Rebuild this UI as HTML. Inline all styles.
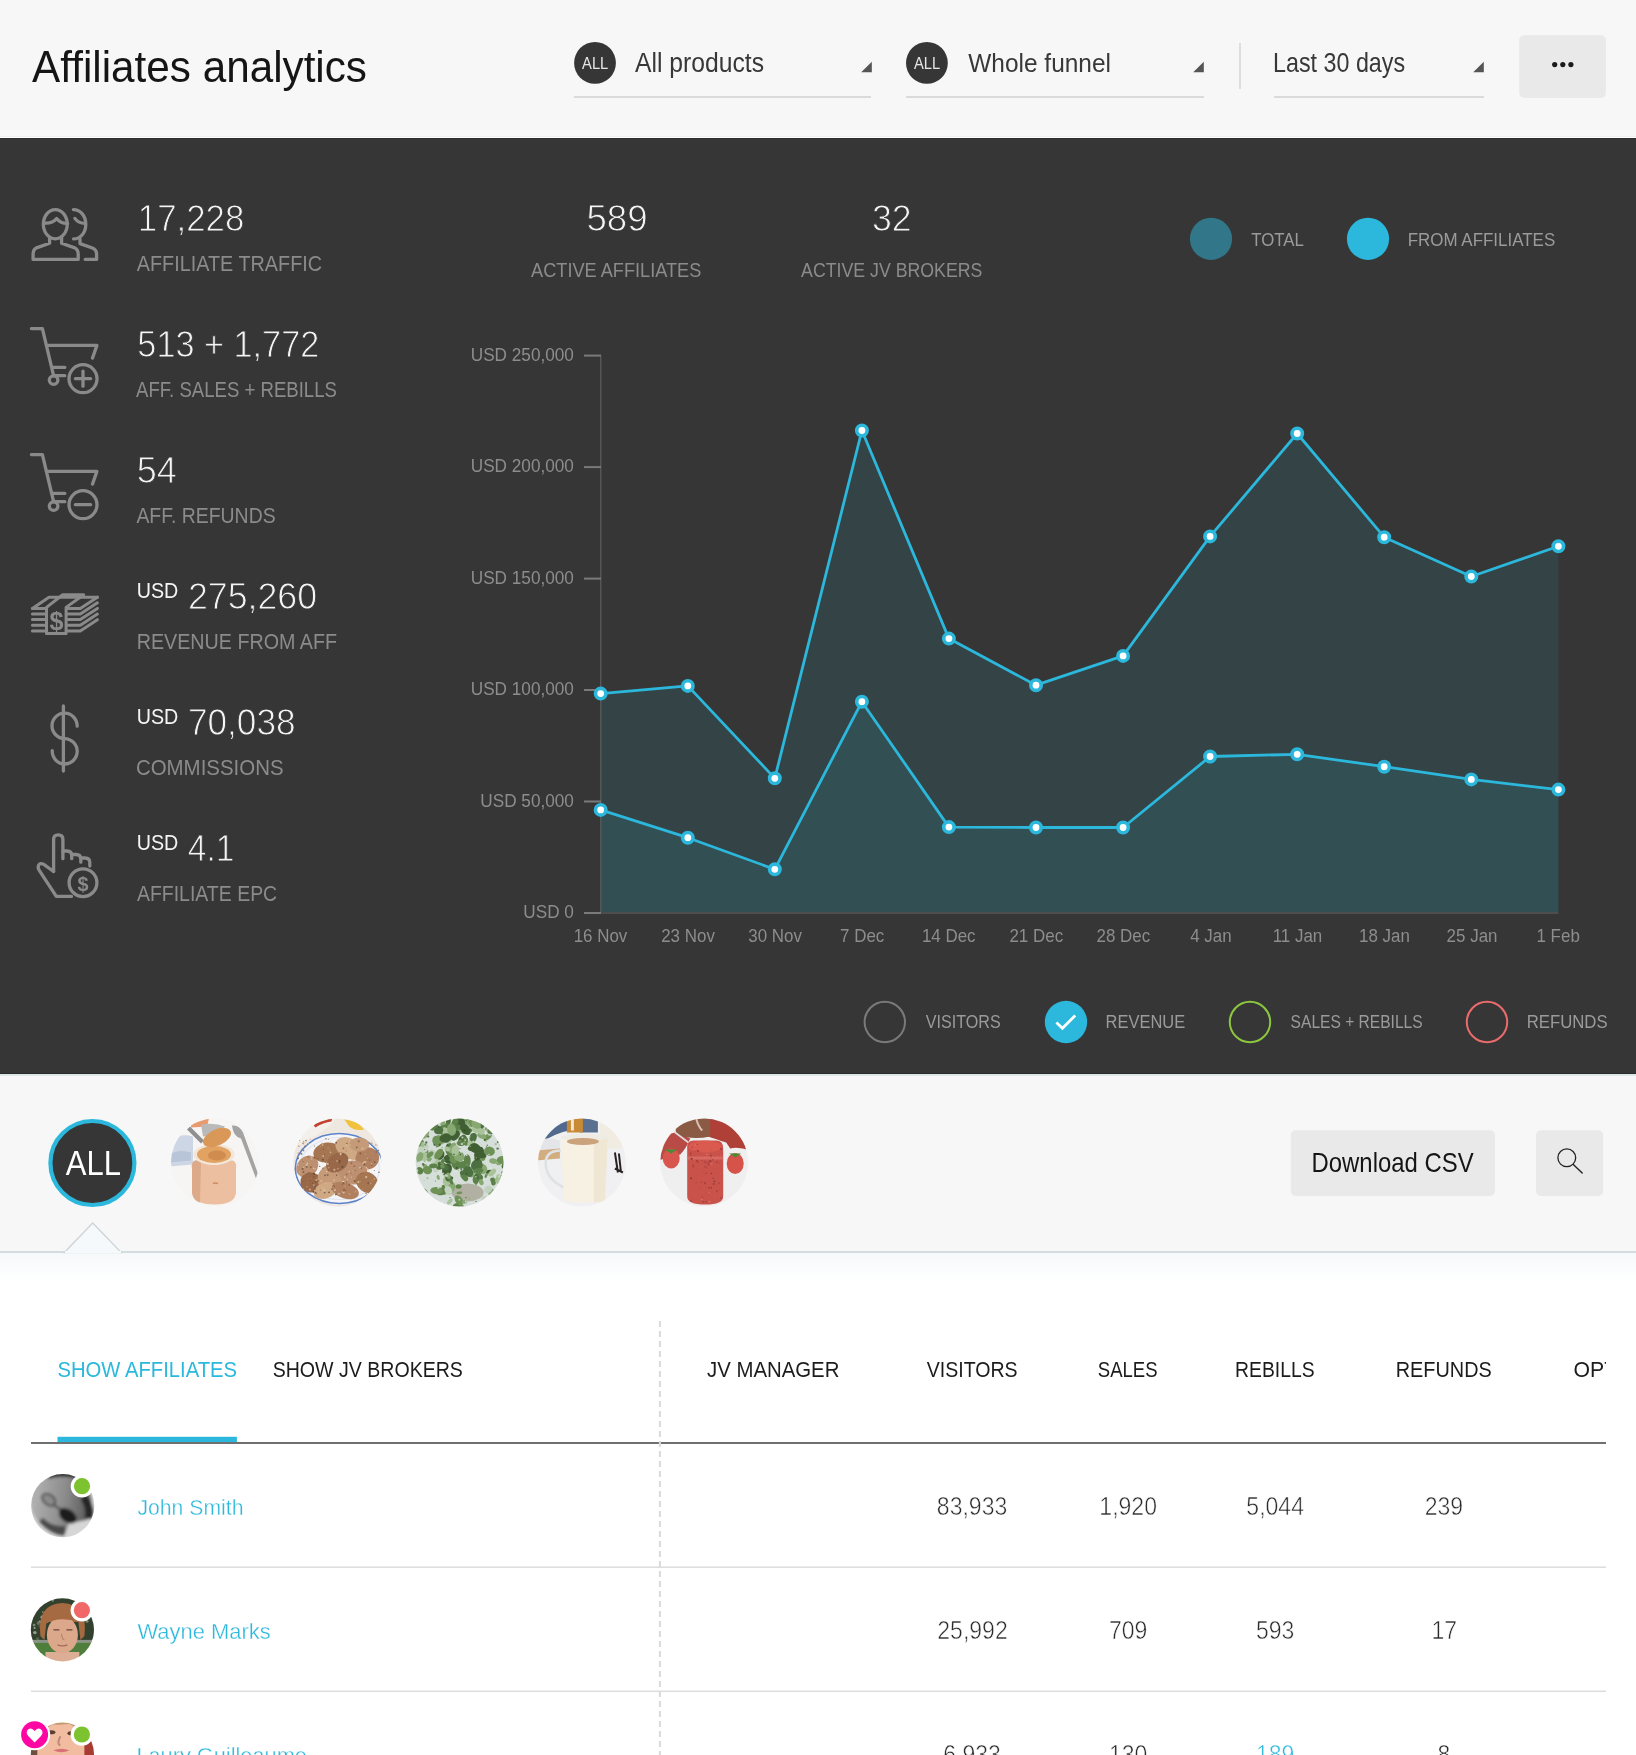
<!DOCTYPE html>
<html><head><meta charset="utf-8"><title>Affiliates analytics</title>
<style>
html,body{margin:0;padding:0;background:#fff;}
body{width:1636px;height:1755px;overflow:hidden;}
svg{display:block;font-family:"Liberation Sans", Arial, sans-serif;will-change:transform;}
</style></head><body>
<svg width="1636" height="1755" viewBox="0 0 1636 1755">
<defs>
<linearGradient id="fadeg" x1="0" y1="0" x2="0" y2="1" gradientUnits="objectBoundingBox">
<stop offset="0" stop-color="#f6f8fa"/><stop offset="0.06" stop-color="#ffffff"/><stop offset="1" stop-color="#ffffff"/></linearGradient>
<clipPath id="tclip"><rect x="0" y="1300" width="1606" height="100"/></clipPath>
<filter id="soft" x="-10%" y="-10%" width="120%" height="120%"><feGaussianBlur stdDeviation="0.7"/></filter>
<filter id="soft2" x="-10%" y="-10%" width="120%" height="120%"><feGaussianBlur stdDeviation="1.4"/></filter>
<clipPath id="fc0"><circle cx="215.0" cy="1162.5" r="44"/></clipPath>
<clipPath id="fc1"><circle cx="337.3" cy="1162.5" r="44"/></clipPath>
<clipPath id="fc2"><circle cx="459.6" cy="1162.5" r="44"/></clipPath>
<clipPath id="fc3"><circle cx="581.9" cy="1162.5" r="44"/></clipPath>
<clipPath id="fc4"><circle cx="704.2" cy="1162.5" r="44"/></clipPath>
<clipPath id="ac0"><circle cx="62.7" cy="1505.7" r="31.6"/></clipPath>
<clipPath id="ac1"><circle cx="62.4" cy="1629.9" r="31.6"/></clipPath>
<clipPath id="ac2"><circle cx="62.4" cy="1754.2" r="31.6"/></clipPath>
<linearGradient id="jsface" x1="0" y1="0" x2="1" y2="1"><stop offset="0" stop-color="#c4c4c4"/><stop offset="0.55" stop-color="#8a8a8a"/><stop offset="1" stop-color="#3a3a3a"/></linearGradient></defs>
<rect x="0" y="0" width="1636" height="138" fill="#f7f7f7"/>
<rect x="0" y="136" width="1636" height="1" fill="#efefef"/>
<rect x="0" y="137" width="1636" height="1" fill="#ffffff"/>
<rect x="0" y="138" width="1636" height="936" fill="#363636"/>
<rect x="0" y="138" width="1636" height="1" fill="#2c2c2c"/>
<rect x="0" y="1073" width="1636" height="1" fill="#2c2c2c"/>
<rect x="0" y="1074" width="1636" height="2" fill="#dfe6e8"/>
<rect x="0" y="1076" width="1636" height="176" fill="#f7f7f7"/>
<rect x="0" y="1252" width="1636" height="503" fill="url(#fadeg)"/>
<rect x="0" y="1251" width="1636" height="2" fill="#d3dcdf"/>
<circle cx="595.0" cy="62.9" r="20.9" fill="#363636"/>
<circle cx="926.9" cy="62.9" r="20.9" fill="#363636"/>
<rect x="574" y="96" width="297" height="2" fill="#dadada"/>
<rect x="906" y="96" width="298" height="2" fill="#dadada"/>
<rect x="1274" y="96" width="210" height="2" fill="#dadada"/>
<polygon points="871.8000000000001,61.8 871.8000000000001,72.3 861.2,72.3" fill="#555"/>
<polygon points="1203.8,61.8 1203.8,72.3 1193.2,72.3" fill="#555"/>
<polygon points="1483.8,61.8 1483.8,72.3 1473.2,72.3" fill="#555"/>
<rect x="1239" y="43" width="2" height="46" fill="#dedede"/>
<rect x="1519.2" y="35.2" width="86.7" height="62.7" rx="5" fill="#e9e9e9"/>
<circle cx="1554.7" cy="64.6" r="2.6" fill="#1a1a1a"/>
<circle cx="1562.8" cy="64.6" r="2.6" fill="#1a1a1a"/>
<circle cx="1570.9" cy="64.6" r="2.6" fill="#1a1a1a"/>
<g fill="none" stroke="#8a8a8a" stroke-width="3.3" stroke-linecap="round" stroke-linejoin="round"><ellipse cx="55.3" cy="224.2" rx="11.95" ry="14.65"/><path d="M43.6 222.9 C49 223.6 53.6 222 56.6 218.6 C59.6 222 63.4 223.6 67.6 223.3"/><path d="M49.6 237.6 V243.2 L37.2 247.6 Q33.1 249.4 33.1 254 V259.4 H78.2 V254 Q78.2 249.4 74 247.6 L61.6 243.2 V237.6"/><path d="M73.4 209.6 C80.6 209.6 85.8 216 85.8 224.2 C85.8 232.6 80.6 238.9 73.6 238.9"/><path d="M74.9 218.4 C77.2 221.6 80.6 223.4 84.8 223.4"/><path d="M80.0 239.2 V243.6 L92.4 248 Q96.6 249.8 96.6 254.2 V259.4 H85.2"/></g>
<g fill="none" stroke="#8a8a8a" stroke-width="3.3" stroke-linecap="round" stroke-linejoin="round" transform="translate(0 0)"><path d="M31.4 328.6 H42.4 L53.6 375.6"/><path d="M46.4 345.4 H96.9 L92.5 358.1"/><path d="M52.4 367.4 H64.8"/><path d="M54.2 375.7 H64.8"/><circle cx="53.6" cy="380.1" r="4.3"/><circle cx="83" cy="378.7" r="14"/><path d="M75.4 378.7 H90.6"/><path d="M83 371.2 V386.2"/></g>
<g fill="none" stroke="#8a8a8a" stroke-width="3.3" stroke-linecap="round" stroke-linejoin="round" transform="translate(0 126)"><path d="M31.4 328.6 H42.4 L53.6 375.6"/><path d="M46.4 345.4 H96.9 L92.5 358.1"/><path d="M52.4 367.4 H64.8"/><path d="M54.2 375.7 H64.8"/><circle cx="53.6" cy="380.1" r="4.3"/><circle cx="83" cy="378.7" r="14"/><path d="M75.4 378.7 H90.6"/></g>
<g fill="none" stroke="#8a8a8a" stroke-width="3.0" stroke-linecap="round" stroke-linejoin="round"><path d="M32.4 608.4 H45.1 M67.6 608.4 H80.3 L97.4 597.1999999999999 M32.4 614.0 H45.1 M67.6 614.0 H80.3 L97.4 602.8 M32.4 619.6 H45.1 M67.6 619.6 H80.3 L97.4 608.4 M32.4 625.2 H45.1 M67.6 625.2 H80.3 L97.4 614.0 M32.4 630.9 H45.1 M67.6 630.9 H80.3 L97.4 619.6999999999999"/><path d="M32.4 608.4 L49 597.2 H97.4"/><path d="M46.5 633.5 V607.4 L62.7 594.7 H83.7 L66.1 607.4 V633.5 Z"/></g>
<text x="56.4" y="629.8" font-size="25" font-weight="700" fill="#8a8a8a" text-anchor="middle" textLength="14" lengthAdjust="spacingAndGlyphs">$</text>
<g fill="none" stroke="#8a8a8a" stroke-width="3.3" stroke-linecap="round" stroke-linejoin="round"><path d="M63.4 706 V771"/><path d="M77.2 726.2 C77.2 719 71.6 713.2 64.6 713.2 C57.6 713.2 52 719 52 725.8 C52 732.8 57.6 738.4 64.6 738.6 C71.6 738.8 77.2 744.4 77.2 751.3 C77.2 758.3 71.6 764 64.6 764 C57.6 764 52.2 758.4 52.2 750.6"/></g>
<g fill="none" stroke="#8a8a8a" stroke-width="3.3" stroke-linecap="round" stroke-linejoin="round" stroke-width="3.4"><path d="M53.6 871.5 V839.4 Q53.6 834.8 58.3 834.8 Q62.9 834.8 62.9 839.4 V858.7"/><path d="M62.9 851 H67 Q71.7 851 71.7 855.6 V858.7"/><path d="M71.7 854.5 H76 Q80.8 854.5 80.8 859.2 V862.2"/><path d="M80.8 858 H85 Q89.8 858 89.8 862.6 V866"/><path d="M53.6 871.5 L43.8 864.4 Q40 862.4 38.6 865.2 Q37.4 867.6 39.4 870.6 L56.3 896.4 H71.5"/><circle cx="83" cy="882.7" r="13.9"/></g>
<text x="83" y="890.6" font-size="21" font-weight="700" fill="#8a8a8a" text-anchor="middle" textLength="11" lengthAdjust="spacingAndGlyphs">$</text>
<circle cx="1211" cy="238.85" r="21.1" fill="rgba(43,184,220,0.5)"/>
<circle cx="1368" cy="238.85" r="21.1" fill="#2bb8dc"/>
<polygon points="600.7,913.0 600.7,693.6 687.8,685.9 774.8,778.3 861.9,430.5 948.9,638.6 1036.0,685.2 1123.1,655.9 1210.1,536.4 1297.2,433.5 1384.2,537.2 1471.3,576.5 1558.4,546.3 1558.4,913.0" fill="rgba(43,184,220,0.10)"/>
<polygon points="600.7,913.0 600.7,809.9 687.8,837.7 774.8,869.3 861.9,701.7 948.9,827.1 1036.0,827.5 1123.1,827.5 1210.1,756.5 1297.2,754.3 1384.2,766.7 1471.3,779.4 1558.4,789.6 1558.4,913.0" fill="rgba(43,184,220,0.10)"/>
<rect x="600.2" y="355.6" width="1.2" height="557.4" fill="#5e5e5e"/>
<rect x="600.2" y="912.0" width="958.2" height="2" fill="#4d4d4d"/>
<rect x="584" y="912.0" width="17" height="2" fill="#7a7a7a"/>
<rect x="584" y="800.5" width="17" height="2" fill="#7a7a7a"/>
<rect x="584" y="689.0" width="17" height="2" fill="#7a7a7a"/>
<rect x="584" y="577.6" width="17" height="2" fill="#7a7a7a"/>
<rect x="584" y="466.1" width="17" height="2" fill="#7a7a7a"/>
<rect x="584" y="354.6" width="17" height="2" fill="#7a7a7a"/>
<polyline points="600.7,693.6 687.8,685.9 774.8,778.3 861.9,430.5 948.9,638.6 1036.0,685.2 1123.1,655.9 1210.1,536.4 1297.2,433.5 1384.2,537.2 1471.3,576.5 1558.4,546.3" fill="none" stroke="#2bb8dc" stroke-width="2.8" stroke-linejoin="round"/>
<polyline points="600.7,809.9 687.8,837.7 774.8,869.3 861.9,701.7 948.9,827.1 1036.0,827.5 1123.1,827.5 1210.1,756.5 1297.2,754.3 1384.2,766.7 1471.3,779.4 1558.4,789.6" fill="none" stroke="#2bb8dc" stroke-width="2.8" stroke-linejoin="round"/>
<circle cx="600.7" cy="693.6" r="5.2" fill="#fff" stroke="#2bb8dc" stroke-width="3.6"/>
<circle cx="687.8" cy="685.9" r="5.2" fill="#fff" stroke="#2bb8dc" stroke-width="3.6"/>
<circle cx="774.8" cy="778.3" r="5.2" fill="#fff" stroke="#2bb8dc" stroke-width="3.6"/>
<circle cx="861.9" cy="430.5" r="5.2" fill="#fff" stroke="#2bb8dc" stroke-width="3.6"/>
<circle cx="948.9" cy="638.6" r="5.2" fill="#fff" stroke="#2bb8dc" stroke-width="3.6"/>
<circle cx="1036.0" cy="685.2" r="5.2" fill="#fff" stroke="#2bb8dc" stroke-width="3.6"/>
<circle cx="1123.1" cy="655.9" r="5.2" fill="#fff" stroke="#2bb8dc" stroke-width="3.6"/>
<circle cx="1210.1" cy="536.4" r="5.2" fill="#fff" stroke="#2bb8dc" stroke-width="3.6"/>
<circle cx="1297.2" cy="433.5" r="5.2" fill="#fff" stroke="#2bb8dc" stroke-width="3.6"/>
<circle cx="1384.2" cy="537.2" r="5.2" fill="#fff" stroke="#2bb8dc" stroke-width="3.6"/>
<circle cx="1471.3" cy="576.5" r="5.2" fill="#fff" stroke="#2bb8dc" stroke-width="3.6"/>
<circle cx="1558.4" cy="546.3" r="5.2" fill="#fff" stroke="#2bb8dc" stroke-width="3.6"/>
<circle cx="600.7" cy="809.9" r="5.2" fill="#fff" stroke="#2bb8dc" stroke-width="3.6"/>
<circle cx="687.8" cy="837.7" r="5.2" fill="#fff" stroke="#2bb8dc" stroke-width="3.6"/>
<circle cx="774.8" cy="869.3" r="5.2" fill="#fff" stroke="#2bb8dc" stroke-width="3.6"/>
<circle cx="861.9" cy="701.7" r="5.2" fill="#fff" stroke="#2bb8dc" stroke-width="3.6"/>
<circle cx="948.9" cy="827.1" r="5.2" fill="#fff" stroke="#2bb8dc" stroke-width="3.6"/>
<circle cx="1036.0" cy="827.5" r="5.2" fill="#fff" stroke="#2bb8dc" stroke-width="3.6"/>
<circle cx="1123.1" cy="827.5" r="5.2" fill="#fff" stroke="#2bb8dc" stroke-width="3.6"/>
<circle cx="1210.1" cy="756.5" r="5.2" fill="#fff" stroke="#2bb8dc" stroke-width="3.6"/>
<circle cx="1297.2" cy="754.3" r="5.2" fill="#fff" stroke="#2bb8dc" stroke-width="3.6"/>
<circle cx="1384.2" cy="766.7" r="5.2" fill="#fff" stroke="#2bb8dc" stroke-width="3.6"/>
<circle cx="1471.3" cy="779.4" r="5.2" fill="#fff" stroke="#2bb8dc" stroke-width="3.6"/>
<circle cx="1558.4" cy="789.6" r="5.2" fill="#fff" stroke="#2bb8dc" stroke-width="3.6"/>
<circle cx="884.8" cy="1022" r="20.2" fill="none" stroke="#7a7a7a" stroke-width="2"/>
<circle cx="1066" cy="1022" r="21.2" fill="#2bb8dc"/>
<path d="M1056.4 1022.6 L1062.4 1028.3 L1075.2 1015.6" fill="none" stroke="#fff" stroke-width="2.8"/>
<circle cx="1250" cy="1022" r="20.2" fill="none" stroke="#8cc63f" stroke-width="2"/>
<circle cx="1487" cy="1022" r="20.2" fill="none" stroke="#ea6b6b" stroke-width="2"/>
<circle cx="92.4" cy="1163" r="42" fill="#363636" stroke="#2bb8dc" stroke-width="4.2"/>
<polygon points="64.4,1252.5 92.7,1223 121.3,1252.5" fill="#f6f9fb" stroke="#cbd4d8" stroke-width="1.3"/>
<rect x="65" y="1251" width="56" height="2.4" fill="#f6f9fb"/>
<g clip-path="url(#fc0)"><g transform="translate(215.0 1162.5)" filter="url(#soft)"><rect x="-46" y="-46" width="92" height="92" fill="#f7f5f3"/><path d="M-46 -22 Q-34 -30 -22 -26 L-22 2 L-46 4 Z" fill="#cdd6e4"/><path d="M-46 -8 Q-36 -14 -24 -10 L-24 -2 L-46 0 Z" fill="#b8c4d8"/><path d="M-24 -44 L-6 -44 L-8 -36 L-24 -35 Z" fill="#e99a70"/><path d="M17 -37 Q24 -38 28 -30 L44 14 L41 16 L26 -24 Q18 -26 17 -37 Z" fill="#a3a3a3"/><path d="M-28 -33 L-14 -19 L-11 -22 L-25 -36 Z" fill="#8f8f8f"/><path d="M-14 -38 Q0 -40 10 -36 L4 -28 L-12 -26 Z" fill="#b9b9b9"/><path d="M-23 6 Q-24 0 -20 -2 L18 -2 Q22 0 21 6 L21 30 Q20 42 0 42 Q-22 42 -23 30 Z" fill="#ebbf9f"/><path d="M-23 6 Q-24 0 -20 -2 L-14 -2 L-15 40 Q-22 38 -23 30 Z" fill="#dca98a"/><ellipse cx="-1" cy="-8" rx="20.5" ry="10.5" fill="#f1e6d8"/><ellipse cx="-1" cy="-8" rx="17" ry="8.5" fill="#e2a262"/><ellipse cx="2" cy="-7" rx="9" ry="5" fill="#d08c50"/><ellipse cx="2" cy="-25" rx="15" ry="8" fill="#d99858" transform="rotate(-25 2 -25)"/><path d="M-2 21 Q0 20 3 21" stroke="#d28a64" stroke-width="1.5" fill="none"/></g></g>
<g clip-path="url(#fc1)"><g transform="translate(337.3 1162.5)" filter="url(#soft)"><rect x="-46" y="-46" width="92" height="92" fill="#efe8e0"/><path d="M-46 -46 H0 Q-10 -30 -46 -14 Z" fill="#f3efea"/><path d="M-24 -38 Q-14 -44 -5 -44 L-6 -41 Q-14 -40 -22 -35 Z" fill="#c4412f"/><path d="M7 -43 Q18 -44 27 -33 Q18 -31 12 -36 Z" fill="#f0c23e"/><ellipse cx="2" cy="6" rx="45" ry="36" fill="#f5f5f7"/><ellipse cx="2" cy="6" rx="44" ry="35" fill="none" stroke="#5b82c9" stroke-width="1.6"/><ellipse cx="2" cy="6" rx="40" ry="31" fill="none" stroke="#dfe6f2" stroke-width="1.2"/><ellipse cx="-30" cy="4" rx="12" ry="10" fill="#bc9070" transform="rotate(-45 -30 4)"/><ellipse cx="-10" cy="-10" rx="14" ry="10" fill="#a67652" transform="rotate(-8 -10 -10)"/><ellipse cx="12" cy="-14" rx="15" ry="10" fill="#cfa884" transform="rotate(29 12 -14)"/><ellipse cx="30" cy="-4" rx="12" ry="11" fill="#b08060" transform="rotate(-24 30 -4)"/><ellipse cx="-26" cy="20" rx="11" ry="10" fill="#98684a" transform="rotate(13 -26 20)"/><ellipse cx="-6" cy="14" rx="15" ry="12" fill="#c49a78" transform="rotate(-40 -6 14)"/><ellipse cx="16" cy="10" rx="14" ry="12" fill="#bc9070" transform="rotate(-3 16 10)"/><ellipse cx="30" cy="20" rx="12" ry="10" fill="#a67652" transform="rotate(34 30 20)"/><ellipse cx="-12" cy="28" rx="12" ry="8" fill="#cfa884" transform="rotate(-19 -12 28)"/><ellipse cx="8" cy="28" rx="14" ry="8" fill="#b08060" transform="rotate(18 8 28)"/><ellipse cx="0" cy="0" rx="12" ry="9" fill="#98684a" transform="rotate(-35 0 0)"/><ellipse cx="22" cy="-18" rx="10" ry="7" fill="#c49a78" transform="rotate(2 22 -18)"/><circle cx="-2.9" cy="7.3" r="1.0" fill="#ecd2b6" opacity="0.75"/><circle cx="-2.9" cy="23.9" r="0.5" fill="#5a4a3a" opacity="0.75"/><circle cx="-1.0" cy="10.4" r="0.5" fill="#ecd2b6" opacity="0.75"/><circle cx="-15.1" cy="-18.9" r="1.0" fill="#c8a080" opacity="0.75"/><circle cx="12.0" cy="9.3" r="0.7" fill="#ecd2b6" opacity="0.75"/><circle cx="13.6" cy="10.5" r="0.5" fill="#6e4a32" opacity="0.75"/><circle cx="28.2" cy="-20.5" r="0.4" fill="#e0c0a0" opacity="0.75"/><circle cx="9.2" cy="19.6" r="0.6" fill="#5a4a3a" opacity="0.75"/><circle cx="29.1" cy="5.1" r="0.8" fill="#ecd2b6" opacity="0.75"/><circle cx="-39.6" cy="-19.2" r="0.9" fill="#ecd2b6" opacity="0.75"/><circle cx="41.8" cy="31.8" r="1.0" fill="#c8a080" opacity="0.75"/><circle cx="-19.2" cy="18.4" r="0.8" fill="#6e4a32" opacity="0.75"/><circle cx="-34.2" cy="18.9" r="0.7" fill="#8a5c3c" opacity="0.75"/><circle cx="-8.3" cy="29.7" r="1.0" fill="#6e4a32" opacity="0.75"/><circle cx="-22.5" cy="27.9" r="0.4" fill="#ecd2b6" opacity="0.75"/><circle cx="40.4" cy="-1.7" r="0.5" fill="#c8a080" opacity="0.75"/><circle cx="-23.7" cy="13.8" r="0.6" fill="#8a5c3c" opacity="0.75"/><circle cx="-12.7" cy="30.0" r="0.9" fill="#6e4a32" opacity="0.75"/><circle cx="-29.0" cy="15.6" r="0.4" fill="#ecd2b6" opacity="0.75"/><circle cx="25.4" cy="-14.1" r="0.8" fill="#ecd2b6" opacity="0.75"/><circle cx="1.7" cy="31.2" r="0.9" fill="#ecd2b6" opacity="0.75"/><circle cx="12.8" cy="-17.5" r="0.7" fill="#e0c0a0" opacity="0.75"/><circle cx="-40.0" cy="24.4" r="1.1" fill="#5a4a3a" opacity="0.75"/><circle cx="-15.1" cy="25.6" r="0.5" fill="#ecd2b6" opacity="0.75"/><circle cx="41.7" cy="9.7" r="0.8" fill="#6e4a32" opacity="0.75"/><circle cx="41.1" cy="-12.1" r="0.6" fill="#5a4a3a" opacity="0.75"/><circle cx="-13.0" cy="-7.4" r="0.5" fill="#6e4a32" opacity="0.75"/><circle cx="-22.9" cy="11.6" r="0.4" fill="#8a5c3c" opacity="0.75"/><circle cx="-9.5" cy="1.4" r="1.1" fill="#ecd2b6" opacity="0.75"/><circle cx="28.3" cy="-16.4" r="0.7" fill="#c8a080" opacity="0.75"/><circle cx="-27.4" cy="26.9" r="1.0" fill="#e0c0a0" opacity="0.75"/><circle cx="19.5" cy="-15.1" r="0.8" fill="#5a4a3a" opacity="0.75"/><circle cx="-23.9" cy="29.2" r="1.0" fill="#5a4a3a" opacity="0.75"/><circle cx="-33.6" cy="-21.3" r="0.5" fill="#5a4a3a" opacity="0.75"/><circle cx="38.9" cy="-10.6" r="0.9" fill="#8a5c3c" opacity="0.75"/><circle cx="-5.5" cy="26.7" r="0.7" fill="#5a4a3a" opacity="0.75"/><circle cx="-25.6" cy="16.3" r="0.4" fill="#e0c0a0" opacity="0.75"/><circle cx="-0.7" cy="12.6" r="0.8" fill="#6e4a32" opacity="0.75"/><circle cx="-17.0" cy="27.4" r="0.5" fill="#6e4a32" opacity="0.75"/><circle cx="-34.3" cy="-1.0" r="0.6" fill="#6e4a32" opacity="0.75"/><circle cx="-25.5" cy="-3.3" r="0.8" fill="#e0c0a0" opacity="0.75"/><circle cx="-32.4" cy="-16.2" r="0.7" fill="#8a5c3c" opacity="0.75"/><circle cx="13.9" cy="14.7" r="0.8" fill="#e0c0a0" opacity="0.75"/><circle cx="8.4" cy="27.7" r="0.7" fill="#8a5c3c" opacity="0.75"/><circle cx="17.5" cy="29.9" r="0.4" fill="#c8a080" opacity="0.75"/><circle cx="-33.9" cy="-20.2" r="0.6" fill="#e0c0a0" opacity="0.75"/><circle cx="41.9" cy="-19.8" r="0.8" fill="#c8a080" opacity="0.75"/><circle cx="-36.4" cy="28.4" r="0.9" fill="#e0c0a0" opacity="0.75"/><circle cx="25.0" cy="27.2" r="0.6" fill="#c8a080" opacity="0.75"/><circle cx="-1.2" cy="-19.7" r="1.0" fill="#6e4a32" opacity="0.75"/><circle cx="30.8" cy="8.1" r="0.8" fill="#ecd2b6" opacity="0.75"/><circle cx="-8.9" cy="-23.3" r="0.5" fill="#6e4a32" opacity="0.75"/><circle cx="12.4" cy="31.6" r="1.0" fill="#c8a080" opacity="0.75"/><circle cx="-12.9" cy="28.3" r="0.9" fill="#ecd2b6" opacity="0.75"/><circle cx="-3.9" cy="22.9" r="0.5" fill="#5a4a3a" opacity="0.75"/><circle cx="-37.6" cy="9.7" r="0.7" fill="#e0c0a0" opacity="0.75"/><circle cx="38.5" cy="-17.7" r="0.9" fill="#c8a080" opacity="0.75"/><circle cx="35.5" cy="-9.7" r="0.4" fill="#8a5c3c" opacity="0.75"/><circle cx="-28.3" cy="10.3" r="0.8" fill="#8a5c3c" opacity="0.75"/><circle cx="14.1" cy="0.7" r="1.0" fill="#8a5c3c" opacity="0.75"/><circle cx="-6.8" cy="-10.0" r="0.8" fill="#e0c0a0" opacity="0.75"/><circle cx="32.2" cy="-2.5" r="0.8" fill="#8a5c3c" opacity="0.75"/><circle cx="-22.8" cy="-16.5" r="0.6" fill="#6e4a32" opacity="0.75"/><circle cx="18.3" cy="29.2" r="0.6" fill="#e0c0a0" opacity="0.75"/><circle cx="-30.7" cy="2.4" r="1.0" fill="#ecd2b6" opacity="0.75"/><circle cx="-8.6" cy="5.1" r="0.9" fill="#c8a080" opacity="0.75"/><circle cx="28.8" cy="31.0" r="0.7" fill="#6e4a32" opacity="0.75"/><circle cx="28.0" cy="-8.4" r="0.8" fill="#c8a080" opacity="0.75"/><circle cx="18.1" cy="8.0" r="0.6" fill="#5a4a3a" opacity="0.75"/><circle cx="-38.4" cy="-16.4" r="0.7" fill="#6e4a32" opacity="0.75"/><circle cx="23.1" cy="-9.1" r="0.9" fill="#6e4a32" opacity="0.75"/><circle cx="40.7" cy="-17.5" r="0.5" fill="#5a4a3a" opacity="0.75"/><circle cx="13.7" cy="21.2" r="1.1" fill="#c8a080" opacity="0.75"/><circle cx="-23.8" cy="22.1" r="0.6" fill="#c8a080" opacity="0.75"/><circle cx="-39.1" cy="2.4" r="0.9" fill="#e0c0a0" opacity="0.75"/><circle cx="-21.4" cy="19.6" r="0.8" fill="#5a4a3a" opacity="0.75"/><circle cx="1.0" cy="31.8" r="0.5" fill="#c8a080" opacity="0.75"/><circle cx="34.3" cy="-19.1" r="1.1" fill="#c8a080" opacity="0.75"/><circle cx="-8.2" cy="1.2" r="0.5" fill="#6e4a32" opacity="0.75"/><circle cx="-9.1" cy="7.9" r="1.0" fill="#8a5c3c" opacity="0.75"/><circle cx="-2.0" cy="12.5" r="0.5" fill="#c8a080" opacity="0.75"/><circle cx="31.0" cy="20.7" r="1.0" fill="#6e4a32" opacity="0.75"/><circle cx="-22.5" cy="26.4" r="1.1" fill="#8a5c3c" opacity="0.75"/><circle cx="4.0" cy="20.3" r="0.6" fill="#c8a080" opacity="0.75"/><circle cx="30.2" cy="-4.5" r="0.5" fill="#ecd2b6" opacity="0.75"/><circle cx="-12.0" cy="-0.4" r="0.6" fill="#6e4a32" opacity="0.75"/><circle cx="-22.1" cy="24.6" r="0.7" fill="#6e4a32" opacity="0.75"/><circle cx="-25.8" cy="-5.2" r="1.0" fill="#e0c0a0" opacity="0.75"/><circle cx="-1.4" cy="32.0" r="1.0" fill="#5a4a3a" opacity="0.75"/><circle cx="28.9" cy="14.6" r="1.1" fill="#ecd2b6" opacity="0.75"/><circle cx="7.5" cy="14.6" r="0.9" fill="#ecd2b6" opacity="0.75"/><circle cx="3.2" cy="-7.8" r="0.9" fill="#c8a080" opacity="0.75"/><circle cx="-26.5" cy="4.8" r="1.0" fill="#8a5c3c" opacity="0.75"/><circle cx="-14.4" cy="-2.7" r="1.0" fill="#5a4a3a" opacity="0.75"/><circle cx="-22.9" cy="23.6" r="1.1" fill="#5a4a3a" opacity="0.75"/><circle cx="-17.6" cy="3.9" r="0.7" fill="#6e4a32" opacity="0.75"/><circle cx="1.3" cy="9.9" r="0.4" fill="#6e4a32" opacity="0.75"/><circle cx="2.3" cy="-1.6" r="1.0" fill="#5a4a3a" opacity="0.75"/><circle cx="-30.0" cy="-18.8" r="0.5" fill="#5a4a3a" opacity="0.75"/><circle cx="-2.4" cy="27.6" r="1.0" fill="#ecd2b6" opacity="0.75"/><circle cx="-17.9" cy="2.5" r="0.5" fill="#ecd2b6" opacity="0.75"/><circle cx="33.9" cy="28.4" r="1.0" fill="#5a4a3a" opacity="0.75"/><circle cx="-14.0" cy="-13.3" r="0.8" fill="#8a5c3c" opacity="0.75"/><circle cx="-29.4" cy="19.6" r="0.4" fill="#e0c0a0" opacity="0.75"/><circle cx="-27.2" cy="-23.3" r="0.6" fill="#c8a080" opacity="0.75"/><circle cx="-10.9" cy="10.7" r="0.5" fill="#c8a080" opacity="0.75"/><circle cx="7.7" cy="23.7" r="0.8" fill="#c8a080" opacity="0.75"/><circle cx="-23.8" cy="5.7" r="0.7" fill="#ecd2b6" opacity="0.75"/><circle cx="11.9" cy="22.2" r="0.8" fill="#5a4a3a" opacity="0.75"/><circle cx="-23.3" cy="11.4" r="0.8" fill="#5a4a3a" opacity="0.75"/><circle cx="-22.3" cy="6.4" r="0.8" fill="#e0c0a0" opacity="0.75"/><circle cx="-20.9" cy="17.5" r="1.0" fill="#e0c0a0" opacity="0.75"/><circle cx="-14.1" cy="-6.4" r="1.0" fill="#e0c0a0" opacity="0.75"/><circle cx="23.8" cy="-13.1" r="0.5" fill="#e0c0a0" opacity="0.75"/><circle cx="-29.1" cy="-19.1" r="0.7" fill="#ecd2b6" opacity="0.75"/><circle cx="28.2" cy="-0.4" r="1.0" fill="#e0c0a0" opacity="0.75"/><circle cx="-23.5" cy="11.2" r="1.0" fill="#6e4a32" opacity="0.75"/><circle cx="-23.5" cy="14.2" r="1.0" fill="#8a5c3c" opacity="0.75"/><circle cx="-30.5" cy="4.3" r="0.9" fill="#5a4a3a" opacity="0.75"/><circle cx="41.9" cy="22.6" r="1.0" fill="#ecd2b6" opacity="0.75"/><circle cx="-31.3" cy="-21.9" r="0.8" fill="#5a4a3a" opacity="0.75"/><circle cx="34.2" cy="3.0" r="0.5" fill="#6e4a32" opacity="0.75"/><circle cx="-23.3" cy="23.1" r="1.1" fill="#c8a080" opacity="0.75"/><circle cx="-32.2" cy="-20.5" r="1.1" fill="#ecd2b6" opacity="0.75"/><circle cx="-33.6" cy="-18.6" r="0.7" fill="#ecd2b6" opacity="0.75"/><circle cx="2.3" cy="0.1" r="0.8" fill="#6e4a32" opacity="0.75"/><circle cx="12.0" cy="-21.7" r="0.5" fill="#ecd2b6" opacity="0.75"/><circle cx="-2.8" cy="17.4" r="0.7" fill="#e0c0a0" opacity="0.75"/><circle cx="9.6" cy="-18.7" r="1.0" fill="#8a5c3c" opacity="0.75"/><circle cx="33.2" cy="20.9" r="0.9" fill="#c8a080" opacity="0.75"/><circle cx="37.0" cy="7.9" r="0.5" fill="#5a4a3a" opacity="0.75"/><circle cx="40.6" cy="21.1" r="0.6" fill="#6e4a32" opacity="0.75"/><circle cx="21.0" cy="19.6" r="1.0" fill="#ecd2b6" opacity="0.75"/><circle cx="-29.1" cy="-5.5" r="0.8" fill="#8a5c3c" opacity="0.75"/><circle cx="22.9" cy="18.9" r="0.7" fill="#c8a080" opacity="0.75"/><circle cx="-24.8" cy="20.7" r="0.6" fill="#6e4a32" opacity="0.75"/><circle cx="-39.1" cy="-4.1" r="0.8" fill="#5a4a3a" opacity="0.75"/><circle cx="-35.9" cy="-8.7" r="1.1" fill="#8a5c3c" opacity="0.75"/><circle cx="-12.3" cy="12.9" r="0.8" fill="#5a4a3a" opacity="0.75"/><circle cx="-33.7" cy="4.8" r="0.7" fill="#e0c0a0" opacity="0.75"/><circle cx="17.5" cy="18.7" r="1.1" fill="#6e4a32" opacity="0.75"/><circle cx="-30.6" cy="-17.9" r="0.6" fill="#ecd2b6" opacity="0.75"/><circle cx="-7.1" cy="-21.2" r="0.5" fill="#ecd2b6" opacity="0.75"/><circle cx="-39.1" cy="-9.5" r="0.6" fill="#8a5c3c" opacity="0.75"/><circle cx="5.1" cy="4.4" r="1.1" fill="#5a4a3a" opacity="0.75"/><circle cx="29.4" cy="-18.4" r="0.7" fill="#c8a080" opacity="0.75"/><circle cx="-33.8" cy="9.5" r="0.9" fill="#6e4a32" opacity="0.75"/><circle cx="-8.3" cy="28.6" r="0.7" fill="#e0c0a0" opacity="0.75"/><circle cx="30.2" cy="6.3" r="0.8" fill="#ecd2b6" opacity="0.75"/><circle cx="37.5" cy="-0.4" r="0.8" fill="#5a4a3a" opacity="0.75"/><circle cx="-14.4" cy="5.7" r="0.7" fill="#8a5c3c" opacity="0.75"/><circle cx="6.0" cy="-8.1" r="0.9" fill="#8a5c3c" opacity="0.75"/><circle cx="-37.8" cy="19.3" r="0.8" fill="#c8a080" opacity="0.75"/><circle cx="-27.2" cy="18.3" r="0.7" fill="#8a5c3c" opacity="0.75"/><circle cx="21.4" cy="-21.2" r="1.1" fill="#8a5c3c" opacity="0.75"/><circle cx="-34.0" cy="26.7" r="0.7" fill="#ecd2b6" opacity="0.75"/><circle cx="-19.4" cy="18.3" r="0.4" fill="#6e4a32" opacity="0.75"/><circle cx="36.9" cy="16.5" r="0.7" fill="#e0c0a0" opacity="0.75"/><circle cx="9.5" cy="-17.6" r="0.8" fill="#ecd2b6" opacity="0.75"/><circle cx="-30.3" cy="24.2" r="0.6" fill="#e0c0a0" opacity="0.75"/><circle cx="-29.8" cy="0.8" r="0.9" fill="#ecd2b6" opacity="0.75"/><circle cx="9.3" cy="11.8" r="0.9" fill="#8a5c3c" opacity="0.75"/><circle cx="23.8" cy="5.7" r="1.1" fill="#8a5c3c" opacity="0.75"/><circle cx="20.2" cy="-10.6" r="0.5" fill="#8a5c3c" opacity="0.75"/><circle cx="24.3" cy="11.0" r="0.7" fill="#8a5c3c" opacity="0.75"/><circle cx="10.0" cy="16.6" r="0.9" fill="#e0c0a0" opacity="0.75"/><circle cx="11.9" cy="18.2" r="0.5" fill="#e0c0a0" opacity="0.75"/><circle cx="1.2" cy="12.6" r="0.5" fill="#c8a080" opacity="0.75"/><circle cx="-36.8" cy="-20.6" r="0.6" fill="#ecd2b6" opacity="0.75"/><circle cx="-37.8" cy="-21.9" r="0.6" fill="#8a5c3c" opacity="0.75"/><circle cx="-34.1" cy="-19.2" r="0.9" fill="#5a4a3a" opacity="0.75"/><circle cx="-20.8" cy="31.0" r="0.7" fill="#8a5c3c" opacity="0.75"/><circle cx="-22.7" cy="-4.8" r="0.9" fill="#6e4a32" opacity="0.75"/><circle cx="25.8" cy="1.0" r="1.0" fill="#e0c0a0" opacity="0.75"/><circle cx="-3.6" cy="17.8" r="0.7" fill="#e0c0a0" opacity="0.75"/><circle cx="-9.7" cy="12.6" r="1.1" fill="#8a5c3c" opacity="0.75"/><circle cx="-16.1" cy="18.5" r="1.0" fill="#e0c0a0" opacity="0.75"/><circle cx="-4.9" cy="-3.3" r="0.5" fill="#8a5c3c" opacity="0.75"/><circle cx="-33.6" cy="-19.4" r="0.8" fill="#ecd2b6" opacity="0.75"/><circle cx="26.9" cy="2.0" r="1.0" fill="#6e4a32" opacity="0.75"/><circle cx="-33.8" cy="-12.1" r="0.9" fill="#6e4a32" opacity="0.75"/><circle cx="17.0" cy="3.7" r="0.9" fill="#8a5c3c" opacity="0.75"/><circle cx="-16.8" cy="-16.0" r="0.7" fill="#c8a080" opacity="0.75"/><circle cx="-13.2" cy="26.8" r="0.6" fill="#ecd2b6" opacity="0.75"/><circle cx="6.7" cy="27.4" r="1.1" fill="#8a5c3c" opacity="0.75"/><circle cx="-4.1" cy="21.0" r="0.6" fill="#8a5c3c" opacity="0.75"/><circle cx="-21.9" cy="30.2" r="0.9" fill="#5a4a3a" opacity="0.75"/><circle cx="-19.6" cy="-3.7" r="0.7" fill="#8a5c3c" opacity="0.75"/><circle cx="15.5" cy="8.7" r="1.0" fill="#c8a080" opacity="0.75"/><circle cx="6.2" cy="20.6" r="0.8" fill="#5a4a3a" opacity="0.75"/><circle cx="6.1" cy="-14.1" r="0.9" fill="#8a5c3c" opacity="0.75"/><circle cx="26.6" cy="-11.6" r="0.4" fill="#e0c0a0" opacity="0.75"/><circle cx="6.5" cy="30.1" r="0.9" fill="#ecd2b6" opacity="0.75"/><circle cx="-34.7" cy="6.6" r="1.0" fill="#6e4a32" opacity="0.75"/><circle cx="-12.6" cy="-8.7" r="0.5" fill="#8a5c3c" opacity="0.75"/><circle cx="-33.1" cy="11.5" r="0.5" fill="#c8a080" opacity="0.75"/><circle cx="26.9" cy="-0.4" r="0.9" fill="#ecd2b6" opacity="0.75"/><circle cx="22.8" cy="5.2" r="0.9" fill="#ecd2b6" opacity="0.75"/><circle cx="-11.3" cy="21.2" r="0.6" fill="#e0c0a0" opacity="0.75"/><circle cx="0.5" cy="6.1" r="0.9" fill="#c8a080" opacity="0.75"/><circle cx="10.7" cy="-21.4" r="0.9" fill="#c8a080" opacity="0.75"/><circle cx="-11.4" cy="-23.8" r="0.7" fill="#6e4a32" opacity="0.75"/><circle cx="32.9" cy="29.6" r="0.8" fill="#5a4a3a" opacity="0.75"/><circle cx="-10.3" cy="-23.4" r="0.5" fill="#ecd2b6" opacity="0.75"/><circle cx="35.1" cy="-10.2" r="0.5" fill="#c8a080" opacity="0.75"/><circle cx="-9.2" cy="-14.6" r="0.5" fill="#ecd2b6" opacity="0.75"/><circle cx="3.4" cy="-8.7" r="1.0" fill="#ecd2b6" opacity="0.75"/><circle cx="-14.7" cy="-17.6" r="0.9" fill="#e0c0a0" opacity="0.75"/><circle cx="34.8" cy="18.2" r="0.4" fill="#ecd2b6" opacity="0.75"/><circle cx="34.6" cy="-22.0" r="0.5" fill="#e0c0a0" opacity="0.75"/><circle cx="-10.5" cy="8.9" r="0.8" fill="#ecd2b6" opacity="0.75"/><circle cx="8.8" cy="-11.5" r="0.5" fill="#8a5c3c" opacity="0.75"/><circle cx="-7.0" cy="27.0" r="1.1" fill="#c8a080" opacity="0.75"/><circle cx="5.0" cy="21.8" r="0.7" fill="#8a5c3c" opacity="0.75"/><circle cx="-0.2" cy="-1.5" r="1.1" fill="#c8a080" opacity="0.75"/><circle cx="4.9" cy="29.6" r="0.7" fill="#e0c0a0" opacity="0.75"/><circle cx="-7.2" cy="-11.8" r="0.5" fill="#ecd2b6" opacity="0.75"/><circle cx="40.0" cy="20.5" r="0.9" fill="#6e4a32" opacity="0.75"/><circle cx="13.9" cy="-10.7" r="0.4" fill="#ecd2b6" opacity="0.75"/><circle cx="34.2" cy="1.2" r="0.6" fill="#ecd2b6" opacity="0.75"/></g></g>
<g clip-path="url(#fc2)"><g transform="translate(459.6 1162.5)" filter="url(#soft)"><rect x="-46" y="-46" width="92" height="92" fill="#d6ded9"/><ellipse cx="8" cy="30" rx="16" ry="9" fill="#b2b0a2"/><ellipse cx="9.8" cy="-31.5" rx="3.1" ry="1.7" fill="#5d8249" transform="rotate(163 9.8 -31.5)"/><ellipse cx="28.5" cy="-33.9" rx="5.0" ry="3.6" fill="#c3d2c0" transform="rotate(27 28.5 -33.9)"/><ellipse cx="24.9" cy="-45.9" rx="5.9" ry="3.1" fill="#87a873" transform="rotate(49 24.9 -45.9)"/><ellipse cx="19.9" cy="-37.1" rx="4.4" ry="2.4" fill="#6e9257" transform="rotate(135 19.9 -37.1)"/><ellipse cx="4.0" cy="0.5" rx="2.6" ry="1.7" fill="#4d7040" transform="rotate(165 4.0 0.5)"/><ellipse cx="4.0" cy="2.4" rx="3.1" ry="2.0" fill="#5d8249" transform="rotate(73 4.0 2.4)"/><ellipse cx="5.2" cy="45.7" rx="2.8" ry="2.1" fill="#6e9257" transform="rotate(19 5.2 45.7)"/><ellipse cx="-9.7" cy="-3.5" rx="6.4" ry="4.8" fill="#3f5f33" transform="rotate(2 -9.7 -3.5)"/><ellipse cx="-11.3" cy="19.3" rx="3.4" ry="1.9" fill="#87a873" transform="rotate(139 -11.3 19.3)"/><ellipse cx="32.8" cy="31.7" rx="6.1" ry="3.8" fill="#87a873" transform="rotate(68 32.8 31.7)"/><ellipse cx="-9.9" cy="15.3" rx="3.5" ry="2.3" fill="#4d7040" transform="rotate(20 -9.9 15.3)"/><ellipse cx="-17.5" cy="-20.8" rx="4.4" ry="2.8" fill="#a9c29a" transform="rotate(149 -17.5 -20.8)"/><ellipse cx="16.3" cy="19.2" rx="3.2" ry="1.7" fill="#6e9257" transform="rotate(83 16.3 19.2)"/><ellipse cx="18.8" cy="-36.8" rx="2.6" ry="1.8" fill="#3f5f33" transform="rotate(139 18.8 -36.8)"/><ellipse cx="-14.6" cy="29.7" rx="3.1" ry="2.5" fill="#87a873" transform="rotate(148 -14.6 29.7)"/><ellipse cx="-10.5" cy="-15.5" rx="4.1" ry="3.3" fill="#3f5f33" transform="rotate(110 -10.5 -15.5)"/><ellipse cx="44.7" cy="2.8" rx="3.5" ry="2.3" fill="#4d7040" transform="rotate(117 44.7 2.8)"/><ellipse cx="-36.2" cy="-11.3" rx="5.7" ry="4.2" fill="#6e9257" transform="rotate(29 -36.2 -11.3)"/><ellipse cx="24.5" cy="37.1" rx="3.9" ry="2.8" fill="#c3d2c0" transform="rotate(103 24.5 37.1)"/><ellipse cx="-27.8" cy="39.9" rx="5.3" ry="3.9" fill="#87a873" transform="rotate(5 -27.8 39.9)"/><ellipse cx="-2.0" cy="-7.6" rx="3.8" ry="3.3" fill="#3f5f33" transform="rotate(65 -2.0 -7.6)"/><ellipse cx="-3.4" cy="-34.6" rx="6.4" ry="3.8" fill="#4d7040" transform="rotate(102 -3.4 -34.6)"/><ellipse cx="4.2" cy="-40.1" rx="6.2" ry="5.3" fill="#4d7040" transform="rotate(179 4.2 -40.1)"/><ellipse cx="29.2" cy="9.3" rx="3.0" ry="1.8" fill="#3f5f33" transform="rotate(161 29.2 9.3)"/><ellipse cx="-23.8" cy="6.8" rx="3.2" ry="2.7" fill="#c3d2c0" transform="rotate(82 -23.8 6.8)"/><ellipse cx="-8.9" cy="26.0" rx="6.5" ry="4.0" fill="#87a873" transform="rotate(121 -8.9 26.0)"/><ellipse cx="21.9" cy="-10.9" rx="4.9" ry="2.7" fill="#3f5f33" transform="rotate(74 21.9 -10.9)"/><ellipse cx="-8.7" cy="-15.1" rx="3.0" ry="2.2" fill="#4d7040" transform="rotate(60 -8.7 -15.1)"/><ellipse cx="13.0" cy="-42.5" rx="5.2" ry="3.4" fill="#4d7040" transform="rotate(90 13.0 -42.5)"/><ellipse cx="-36.6" cy="-14.2" rx="6.2" ry="4.9" fill="#c3d2c0" transform="rotate(135 -36.6 -14.2)"/><ellipse cx="-1.3" cy="45.5" rx="5.9" ry="4.9" fill="#5d8249" transform="rotate(21 -1.3 45.5)"/><ellipse cx="1.9" cy="-7.3" rx="2.6" ry="1.6" fill="#3f5f33" transform="rotate(111 1.9 -7.3)"/><ellipse cx="-6.1" cy="-11.4" rx="3.8" ry="3.2" fill="#5d8249" transform="rotate(158 -6.1 -11.4)"/><ellipse cx="34.3" cy="43.5" rx="2.9" ry="2.1" fill="#87a873" transform="rotate(118 34.3 43.5)"/><ellipse cx="40.5" cy="34.9" rx="5.4" ry="4.6" fill="#a9c29a" transform="rotate(76 40.5 34.9)"/><ellipse cx="28.1" cy="-25.6" rx="4.8" ry="2.6" fill="#6e9257" transform="rotate(143 28.1 -25.6)"/><ellipse cx="-34.6" cy="3.5" rx="2.5" ry="2.0" fill="#87a873" transform="rotate(4 -34.6 3.5)"/><ellipse cx="-30.2" cy="-5.4" rx="4.6" ry="3.0" fill="#87a873" transform="rotate(105 -30.2 -5.4)"/><ellipse cx="-41.8" cy="-43.1" rx="3.7" ry="2.1" fill="#5d8249" transform="rotate(140 -41.8 -43.1)"/><ellipse cx="33.0" cy="17.7" rx="2.7" ry="2.3" fill="#5d8249" transform="rotate(64 33.0 17.7)"/><ellipse cx="-2.5" cy="-30.2" rx="6.0" ry="3.5" fill="#87a873" transform="rotate(114 -2.5 -30.2)"/><ellipse cx="36.8" cy="34.0" rx="3.0" ry="2.0" fill="#5d8249" transform="rotate(30 36.8 34.0)"/><ellipse cx="33.3" cy="-34.9" rx="3.6" ry="2.5" fill="#87a873" transform="rotate(53 33.3 -34.9)"/><ellipse cx="-20.9" cy="27.9" rx="3.0" ry="1.8" fill="#c3d2c0" transform="rotate(54 -20.9 27.9)"/><ellipse cx="39.3" cy="15.4" rx="3.6" ry="2.8" fill="#a9c29a" transform="rotate(83 39.3 15.4)"/><ellipse cx="37.5" cy="-45.4" rx="4.6" ry="3.8" fill="#5d8249" transform="rotate(16 37.5 -45.4)"/><ellipse cx="-20.3" cy="4.4" rx="3.2" ry="2.9" fill="#4d7040" transform="rotate(6 -20.3 4.4)"/><ellipse cx="39.5" cy="-0.0" rx="3.2" ry="2.6" fill="#87a873" transform="rotate(164 39.5 -0.0)"/><ellipse cx="-16.5" cy="-1.5" rx="2.6" ry="1.8" fill="#5d8249" transform="rotate(152 -16.5 -1.5)"/><ellipse cx="17.0" cy="1.9" rx="6.3" ry="4.7" fill="#4d7040" transform="rotate(139 17.0 1.9)"/><ellipse cx="-35.7" cy="-5.9" rx="4.7" ry="3.8" fill="#a9c29a" transform="rotate(142 -35.7 -5.9)"/><ellipse cx="7.4" cy="-0.1" rx="2.6" ry="2.3" fill="#87a873" transform="rotate(9 7.4 -0.1)"/><ellipse cx="10.0" cy="10.0" rx="5.7" ry="3.9" fill="#87a873" transform="rotate(47 10.0 10.0)"/><ellipse cx="27.5" cy="-39.3" rx="4.8" ry="3.5" fill="#c3d2c0" transform="rotate(130 27.5 -39.3)"/><ellipse cx="11.3" cy="-41.0" rx="4.2" ry="2.6" fill="#a9c29a" transform="rotate(112 11.3 -41.0)"/><ellipse cx="2.3" cy="-21.6" rx="4.9" ry="3.7" fill="#3f5f33" transform="rotate(92 2.3 -21.6)"/><ellipse cx="-11.1" cy="-23.2" rx="4.5" ry="3.7" fill="#a9c29a" transform="rotate(142 -11.1 -23.2)"/><ellipse cx="-1.0" cy="24.0" rx="3.1" ry="2.2" fill="#5d8249" transform="rotate(177 -1.0 24.0)"/><ellipse cx="-45.7" cy="-8.3" rx="2.9" ry="1.8" fill="#c3d2c0" transform="rotate(76 -45.7 -8.3)"/><ellipse cx="-39.0" cy="-42.8" rx="5.6" ry="3.3" fill="#c3d2c0" transform="rotate(46 -39.0 -42.8)"/><ellipse cx="4.8" cy="-23.8" rx="4.3" ry="2.8" fill="#4d7040" transform="rotate(61 4.8 -23.8)"/><ellipse cx="44.3" cy="10.2" rx="2.7" ry="2.0" fill="#6e9257" transform="rotate(179 44.3 10.2)"/><ellipse cx="21.8" cy="6.2" rx="6.1" ry="5.3" fill="#87a873" transform="rotate(32 21.8 6.2)"/><ellipse cx="-11.2" cy="-41.5" rx="4.2" ry="2.4" fill="#4d7040" transform="rotate(99 -11.2 -41.5)"/><ellipse cx="45.4" cy="16.5" rx="6.0" ry="4.3" fill="#4d7040" transform="rotate(75 45.4 16.5)"/><ellipse cx="-41.7" cy="-20.6" rx="5.0" ry="2.9" fill="#c3d2c0" transform="rotate(47 -41.7 -20.6)"/><ellipse cx="-9.8" cy="39.0" rx="3.6" ry="1.9" fill="#a9c29a" transform="rotate(131 -9.8 39.0)"/><ellipse cx="31.2" cy="-35.0" rx="5.9" ry="3.1" fill="#5d8249" transform="rotate(159 31.2 -35.0)"/><ellipse cx="-16.1" cy="24.9" rx="2.7" ry="2.0" fill="#5d8249" transform="rotate(88 -16.1 24.9)"/><ellipse cx="-26.8" cy="-8.2" rx="5.3" ry="4.1" fill="#c3d2c0" transform="rotate(47 -26.8 -8.2)"/><ellipse cx="20.7" cy="15.3" rx="3.1" ry="2.6" fill="#4d7040" transform="rotate(96 20.7 15.3)"/><ellipse cx="-4.7" cy="-33.4" rx="4.6" ry="2.7" fill="#5d8249" transform="rotate(53 -4.7 -33.4)"/><ellipse cx="-14.3" cy="-26.2" rx="2.7" ry="2.1" fill="#3f5f33" transform="rotate(87 -14.3 -26.2)"/><ellipse cx="-45.0" cy="24.1" rx="5.1" ry="4.5" fill="#6e9257" transform="rotate(39 -45.0 24.1)"/><ellipse cx="17.4" cy="15.3" rx="6.3" ry="3.8" fill="#5d8249" transform="rotate(114 17.4 15.3)"/><ellipse cx="-0.3" cy="-20.3" rx="3.1" ry="1.8" fill="#6e9257" transform="rotate(138 -0.3 -20.3)"/><ellipse cx="-13.7" cy="19.5" rx="4.6" ry="2.9" fill="#a9c29a" transform="rotate(76 -13.7 19.5)"/><ellipse cx="-32.1" cy="7.6" rx="4.7" ry="4.1" fill="#6e9257" transform="rotate(22 -32.1 7.6)"/><ellipse cx="-18.6" cy="29.0" rx="5.1" ry="3.8" fill="#5d8249" transform="rotate(172 -18.6 29.0)"/><ellipse cx="-12.6" cy="7.0" rx="6.3" ry="4.7" fill="#3f5f33" transform="rotate(112 -12.6 7.0)"/><ellipse cx="-8.2" cy="-7.8" rx="3.6" ry="3.1" fill="#6e9257" transform="rotate(69 -8.2 -7.8)"/><ellipse cx="-24.0" cy="-0.6" rx="4.7" ry="3.9" fill="#c3d2c0" transform="rotate(159 -24.0 -0.6)"/><ellipse cx="-36.4" cy="-44.2" rx="3.3" ry="2.6" fill="#5d8249" transform="rotate(174 -36.4 -44.2)"/><ellipse cx="29.8" cy="-31.3" rx="4.5" ry="2.8" fill="#c3d2c0" transform="rotate(75 29.8 -31.3)"/><ellipse cx="-12.2" cy="15.5" rx="4.5" ry="2.7" fill="#a9c29a" transform="rotate(58 -12.2 15.5)"/><ellipse cx="18.8" cy="-35.6" rx="4.3" ry="3.0" fill="#a9c29a" transform="rotate(29 18.8 -35.6)"/><ellipse cx="-22.6" cy="0.7" rx="4.1" ry="2.6" fill="#a9c29a" transform="rotate(123 -22.6 0.7)"/><ellipse cx="5.9" cy="-34.1" rx="6.4" ry="5.0" fill="#a9c29a" transform="rotate(112 5.9 -34.1)"/><ellipse cx="-11.3" cy="15.6" rx="3.4" ry="3.0" fill="#4d7040" transform="rotate(85 -11.3 15.6)"/><ellipse cx="-21.1" cy="-22.8" rx="5.2" ry="4.5" fill="#6e9257" transform="rotate(178 -21.1 -22.8)"/><ellipse cx="-42.1" cy="-19.7" rx="6.5" ry="4.3" fill="#6e9257" transform="rotate(163 -42.1 -19.7)"/><ellipse cx="-39.8" cy="-5.6" rx="5.1" ry="3.3" fill="#87a873" transform="rotate(111 -39.8 -5.6)"/><ellipse cx="17.9" cy="4.2" rx="5.7" ry="3.9" fill="#4d7040" transform="rotate(150 17.9 4.2)"/><ellipse cx="6.3" cy="-20.8" rx="4.1" ry="2.4" fill="#5d8249" transform="rotate(87 6.3 -20.8)"/><ellipse cx="-12.3" cy="-22.1" rx="2.7" ry="1.4" fill="#3f5f33" transform="rotate(137 -12.3 -22.1)"/><ellipse cx="15.7" cy="-45.6" rx="3.8" ry="3.5" fill="#4d7040" transform="rotate(36 15.7 -45.6)"/><ellipse cx="33.8" cy="-1.4" rx="4.2" ry="2.7" fill="#87a873" transform="rotate(10 33.8 -1.4)"/><ellipse cx="4.7" cy="14.4" rx="5.0" ry="2.9" fill="#5d8249" transform="rotate(52 4.7 14.4)"/><ellipse cx="-23.0" cy="28.1" rx="6.3" ry="3.6" fill="#6e9257" transform="rotate(5 -23.0 28.1)"/><ellipse cx="1.3" cy="-45.0" rx="3.3" ry="1.7" fill="#5d8249" transform="rotate(95 1.3 -45.0)"/><ellipse cx="28.5" cy="26.9" rx="4.1" ry="3.4" fill="#c3d2c0" transform="rotate(138 28.5 26.9)"/><ellipse cx="44.7" cy="-36.7" rx="4.1" ry="2.5" fill="#5d8249" transform="rotate(164 44.7 -36.7)"/><ellipse cx="-10.3" cy="-12.0" rx="5.1" ry="3.8" fill="#5d8249" transform="rotate(81 -10.3 -12.0)"/><ellipse cx="-17.3" cy="-39.9" rx="5.1" ry="2.7" fill="#87a873" transform="rotate(60 -17.3 -39.9)"/><ellipse cx="22.2" cy="-26.6" rx="4.7" ry="2.7" fill="#87a873" transform="rotate(19 22.2 -26.6)"/><ellipse cx="-16.4" cy="3.4" rx="6.3" ry="3.2" fill="#4d7040" transform="rotate(31 -16.4 3.4)"/><ellipse cx="-39.9" cy="8.2" rx="3.8" ry="3.4" fill="#5d8249" transform="rotate(40 -39.9 8.2)"/><ellipse cx="-8.4" cy="19.0" rx="3.2" ry="1.7" fill="#5d8249" transform="rotate(70 -8.4 19.0)"/><ellipse cx="38.7" cy="35.1" rx="4.6" ry="2.6" fill="#6e9257" transform="rotate(114 38.7 35.1)"/><ellipse cx="-11.2" cy="13.2" rx="3.3" ry="2.1" fill="#87a873" transform="rotate(79 -11.2 13.2)"/><ellipse cx="19.7" cy="-7.0" rx="6.4" ry="3.5" fill="#3f5f33" transform="rotate(133 19.7 -7.0)"/><ellipse cx="22.5" cy="-5.9" rx="4.4" ry="3.1" fill="#6e9257" transform="rotate(68 22.5 -5.9)"/><ellipse cx="3.8" cy="-42.1" rx="6.2" ry="4.6" fill="#87a873" transform="rotate(80 3.8 -42.1)"/><ellipse cx="8.6" cy="8.7" rx="6.2" ry="4.5" fill="#4d7040" transform="rotate(59 8.6 8.7)"/><ellipse cx="-2.9" cy="4.8" rx="2.7" ry="2.2" fill="#4d7040" transform="rotate(162 -2.9 4.8)"/><ellipse cx="-35.8" cy="-28.8" rx="5.7" ry="4.7" fill="#87a873" transform="rotate(144 -35.8 -28.8)"/><ellipse cx="34.0" cy="19.5" rx="3.5" ry="2.4" fill="#5d8249" transform="rotate(97 34.0 19.5)"/><ellipse cx="13.2" cy="-39.2" rx="4.7" ry="4.0" fill="#6e9257" transform="rotate(13 13.2 -39.2)"/><ellipse cx="-0.3" cy="-40.9" rx="6.0" ry="4.9" fill="#3f5f33" transform="rotate(27 -0.3 -40.9)"/><ellipse cx="-12.3" cy="-36.8" rx="2.6" ry="2.3" fill="#5d8249" transform="rotate(40 -12.3 -36.8)"/><ellipse cx="-19.5" cy="-7.7" rx="5.0" ry="4.2" fill="#3f5f33" transform="rotate(111 -19.5 -7.7)"/><ellipse cx="37.0" cy="-39.4" rx="3.3" ry="2.8" fill="#a9c29a" transform="rotate(131 37.0 -39.4)"/><ellipse cx="11.9" cy="-20.4" rx="4.9" ry="2.9" fill="#a9c29a" transform="rotate(138 11.9 -20.4)"/><ellipse cx="-20.4" cy="-22.2" rx="3.9" ry="2.5" fill="#87a873" transform="rotate(35 -20.4 -22.2)"/><ellipse cx="45.5" cy="17.6" rx="5.4" ry="4.6" fill="#5d8249" transform="rotate(139 45.5 17.6)"/><ellipse cx="-27.6" cy="-39.4" rx="3.6" ry="3.0" fill="#5d8249" transform="rotate(74 -27.6 -39.4)"/><ellipse cx="-4.0" cy="0.6" rx="6.3" ry="4.4" fill="#5d8249" transform="rotate(75 -4.0 0.6)"/><ellipse cx="-0.7" cy="-35.2" rx="3.0" ry="2.6" fill="#5d8249" transform="rotate(14 -0.7 -35.2)"/><ellipse cx="13.6" cy="-25.2" rx="4.4" ry="3.5" fill="#4d7040" transform="rotate(108 13.6 -25.2)"/><ellipse cx="-4.7" cy="-40.1" rx="4.2" ry="3.1" fill="#5d8249" transform="rotate(119 -4.7 -40.1)"/><ellipse cx="-21.4" cy="14.9" rx="2.6" ry="1.5" fill="#87a873" transform="rotate(74 -21.4 14.9)"/><ellipse cx="-7.3" cy="-14.6" rx="5.8" ry="3.1" fill="#87a873" transform="rotate(118 -7.3 -14.6)"/><ellipse cx="-4.3" cy="-26.8" rx="5.7" ry="3.7" fill="#3f5f33" transform="rotate(130 -4.3 -26.8)"/><ellipse cx="15.6" cy="-14.4" rx="6.1" ry="4.7" fill="#3f5f33" transform="rotate(28 15.6 -14.4)"/><ellipse cx="-39.3" cy="-30.3" rx="4.4" ry="2.3" fill="#c3d2c0" transform="rotate(40 -39.3 -30.3)"/><ellipse cx="-40.7" cy="46.0" rx="5.7" ry="4.0" fill="#87a873" transform="rotate(105 -40.7 46.0)"/><ellipse cx="-0.2" cy="30.4" rx="2.9" ry="1.4" fill="#6e9257" transform="rotate(173 -0.2 30.4)"/><ellipse cx="43.2" cy="-2.4" rx="6.0" ry="4.1" fill="#6e9257" transform="rotate(3 43.2 -2.4)"/><ellipse cx="33.1" cy="40.9" rx="2.6" ry="1.7" fill="#a9c29a" transform="rotate(101 33.1 40.9)"/><ellipse cx="45.9" cy="5.9" rx="2.8" ry="1.5" fill="#4d7040" transform="rotate(16 45.9 5.9)"/><ellipse cx="1.1" cy="-19.0" rx="3.5" ry="2.4" fill="#5d8249" transform="rotate(178 1.1 -19.0)"/><ellipse cx="8.2" cy="-30.3" rx="2.9" ry="2.5" fill="#4d7040" transform="rotate(19 8.2 -30.3)"/><ellipse cx="32.2" cy="-31.8" rx="4.6" ry="3.4" fill="#5d8249" transform="rotate(173 32.2 -31.8)"/><ellipse cx="19.6" cy="-35.1" rx="5.8" ry="3.3" fill="#4d7040" transform="rotate(147 19.6 -35.1)"/><ellipse cx="21.6" cy="19.6" rx="3.1" ry="2.3" fill="#87a873" transform="rotate(73 21.6 19.6)"/><ellipse cx="-0.6" cy="37.9" rx="5.6" ry="3.6" fill="#6e9257" transform="rotate(54 -0.6 37.9)"/><ellipse cx="-26.3" cy="3.4" rx="4.2" ry="2.4" fill="#5d8249" transform="rotate(179 -26.3 3.4)"/><ellipse cx="5.5" cy="-33.3" rx="6.4" ry="4.2" fill="#3f5f33" transform="rotate(54 5.5 -33.3)"/><ellipse cx="-6.5" cy="-2.1" rx="3.9" ry="2.5" fill="#6e9257" transform="rotate(21 -6.5 -2.1)"/><ellipse cx="-17.4" cy="2.9" rx="3.2" ry="2.3" fill="#6e9257" transform="rotate(72 -17.4 2.9)"/><ellipse cx="-25.5" cy="-36.9" rx="4.0" ry="2.6" fill="#5d8249" transform="rotate(171 -25.5 -36.9)"/><ellipse cx="1.8" cy="2.5" rx="5.4" ry="3.6" fill="#5d8249" transform="rotate(174 1.8 2.5)"/><ellipse cx="-45.3" cy="8.6" rx="4.0" ry="3.1" fill="#c3d2c0" transform="rotate(151 -45.3 8.6)"/><ellipse cx="-29.1" cy="-35.2" rx="5.5" ry="2.9" fill="#5d8249" transform="rotate(17 -29.1 -35.2)"/><ellipse cx="-22.8" cy="-21.1" rx="5.7" ry="4.3" fill="#6e9257" transform="rotate(67 -22.8 -21.1)"/><ellipse cx="-9.5" cy="-25.3" rx="3.5" ry="2.2" fill="#3f5f33" transform="rotate(147 -9.5 -25.3)"/><ellipse cx="26.5" cy="13.1" rx="2.7" ry="1.4" fill="#6e9257" transform="rotate(112 26.5 13.1)"/><ellipse cx="4.8" cy="39.3" rx="2.6" ry="1.9" fill="#87a873" transform="rotate(1 4.8 39.3)"/><ellipse cx="21.8" cy="-7.5" rx="5.2" ry="3.0" fill="#3f5f33" transform="rotate(15 21.8 -7.5)"/><ellipse cx="17.1" cy="-33.1" rx="5.5" ry="3.7" fill="#a9c29a" transform="rotate(21 17.1 -33.1)"/><ellipse cx="-35.3" cy="30.7" rx="4.7" ry="3.7" fill="#6e9257" transform="rotate(71 -35.3 30.7)"/><ellipse cx="17.6" cy="14.1" rx="3.0" ry="1.6" fill="#4d7040" transform="rotate(58 17.6 14.1)"/><ellipse cx="-20.8" cy="-8.5" rx="6.1" ry="3.5" fill="#6e9257" transform="rotate(127 -20.8 -8.5)"/><ellipse cx="-0.5" cy="-5.8" rx="5.7" ry="4.6" fill="#87a873" transform="rotate(19 -0.5 -5.8)"/><ellipse cx="22.3" cy="-30.7" rx="3.3" ry="2.7" fill="#a9c29a" transform="rotate(117 22.3 -30.7)"/><ellipse cx="-11.3" cy="27.9" rx="4.3" ry="3.6" fill="#c3d2c0" transform="rotate(64 -11.3 27.9)"/><ellipse cx="7.7" cy="-1.8" rx="6.4" ry="3.4" fill="#5d8249" transform="rotate(88 7.7 -1.8)"/><ellipse cx="12.2" cy="-13.7" rx="4.1" ry="2.5" fill="#3f5f33" transform="rotate(12 12.2 -13.7)"/><ellipse cx="29.9" cy="-11.3" rx="5.4" ry="4.6" fill="#6e9257" transform="rotate(12 29.9 -11.3)"/><ellipse cx="-29.5" cy="-7.9" rx="4.0" ry="2.4" fill="#6e9257" transform="rotate(136 -29.5 -7.9)"/><ellipse cx="-36.6" cy="-17.8" rx="2.6" ry="1.9" fill="#a9c29a" transform="rotate(99 -36.6 -17.8)"/><ellipse cx="-15.4" cy="-32.1" rx="6.3" ry="5.2" fill="#5d8249" transform="rotate(18 -15.4 -32.1)"/><ellipse cx="3.2" cy="10.1" rx="3.0" ry="2.2" fill="#4d7040" transform="rotate(162 3.2 10.1)"/><ellipse cx="39.0" cy="17.4" rx="4.0" ry="3.3" fill="#a9c29a" transform="rotate(109 39.0 17.4)"/><ellipse cx="-13.1" cy="-30.1" rx="6.1" ry="3.7" fill="#a9c29a" transform="rotate(46 -13.1 -30.1)"/><ellipse cx="-19.8" cy="-20.5" rx="4.5" ry="2.6" fill="#6e9257" transform="rotate(155 -19.8 -20.5)"/><ellipse cx="32.6" cy="10.1" rx="4.7" ry="2.6" fill="#a9c29a" transform="rotate(135 32.6 10.1)"/><ellipse cx="18.7" cy="8.2" rx="5.1" ry="2.6" fill="#5d8249" transform="rotate(169 18.7 8.2)"/><ellipse cx="-4.3" cy="-11.9" rx="5.4" ry="3.8" fill="#a9c29a" transform="rotate(102 -4.3 -11.9)"/><ellipse cx="-13.9" cy="-24.6" rx="6.3" ry="4.6" fill="#3f5f33" transform="rotate(167 -13.9 -24.6)"/><ellipse cx="-12.2" cy="-13.5" rx="3.1" ry="2.3" fill="#a9c29a" transform="rotate(25 -12.2 -13.5)"/><ellipse cx="-8.0" cy="-32.8" rx="6.1" ry="4.4" fill="#87a873" transform="rotate(79 -8.0 -32.8)"/><ellipse cx="16.5" cy="-38.1" rx="5.3" ry="3.7" fill="#87a873" transform="rotate(36 16.5 -38.1)"/><ellipse cx="18.9" cy="-7.6" rx="4.4" ry="3.5" fill="#3f5f33" transform="rotate(5 18.9 -7.6)"/><ellipse cx="-20.9" cy="-32.1" rx="4.7" ry="3.9" fill="#4d7040" transform="rotate(168 -20.9 -32.1)"/><circle cx="-42.2" cy="-0.9" r="0.9" fill="#94b47e" opacity="0.7"/><circle cx="6.3" cy="35.1" r="0.7" fill="#2f4a25" opacity="0.7"/><circle cx="-36.4" cy="1.7" r="1.2" fill="#2f4a25" opacity="0.7"/><circle cx="-34.4" cy="-17.8" r="0.7" fill="#2f4a25" opacity="0.7"/><circle cx="-7.6" cy="-30.9" r="0.6" fill="#94b47e" opacity="0.7"/><circle cx="1.7" cy="7.0" r="1.0" fill="#2f4a25" opacity="0.7"/><circle cx="-43.9" cy="-38.0" r="1.1" fill="#e4ebe4" opacity="0.7"/><circle cx="29.3" cy="-8.1" r="0.7" fill="#e4ebe4" opacity="0.7"/><circle cx="-9.5" cy="35.1" r="0.7" fill="#2f4a25" opacity="0.7"/><circle cx="7.5" cy="2.3" r="0.7" fill="#94b47e" opacity="0.7"/><circle cx="-13.0" cy="13.3" r="1.2" fill="#e4ebe4" opacity="0.7"/><circle cx="-28.5" cy="-30.8" r="0.7" fill="#e4ebe4" opacity="0.7"/><circle cx="-24.6" cy="36.9" r="0.6" fill="#94b47e" opacity="0.7"/><circle cx="13.6" cy="-21.1" r="0.9" fill="#e4ebe4" opacity="0.7"/><circle cx="6.5" cy="-42.0" r="0.7" fill="#2f4a25" opacity="0.7"/><circle cx="-17.5" cy="-15.0" r="1.0" fill="#94b47e" opacity="0.7"/><circle cx="-41.0" cy="-22.2" r="0.6" fill="#94b47e" opacity="0.7"/><circle cx="23.2" cy="-22.5" r="0.7" fill="#e4ebe4" opacity="0.7"/><circle cx="5.0" cy="-31.9" r="1.0" fill="#2f4a25" opacity="0.7"/><circle cx="36.2" cy="43.2" r="0.8" fill="#2f4a25" opacity="0.7"/><circle cx="-7.1" cy="15.0" r="0.7" fill="#2f4a25" opacity="0.7"/><circle cx="-10.6" cy="-18.7" r="0.9" fill="#94b47e" opacity="0.7"/><circle cx="-38.0" cy="41.7" r="1.1" fill="#2f4a25" opacity="0.7"/><circle cx="-0.1" cy="-10.5" r="0.5" fill="#2f4a25" opacity="0.7"/><circle cx="-31.4" cy="-25.9" r="1.1" fill="#2f4a25" opacity="0.7"/><circle cx="38.0" cy="-13.9" r="1.2" fill="#2f4a25" opacity="0.7"/><circle cx="26.7" cy="-15.9" r="0.5" fill="#2f4a25" opacity="0.7"/><circle cx="-32.1" cy="15.7" r="1.1" fill="#94b47e" opacity="0.7"/><circle cx="33.9" cy="14.8" r="0.8" fill="#94b47e" opacity="0.7"/><circle cx="-33.4" cy="-20.0" r="1.2" fill="#2f4a25" opacity="0.7"/><circle cx="42.5" cy="19.8" r="1.0" fill="#2f4a25" opacity="0.7"/><circle cx="-17.0" cy="-27.9" r="0.6" fill="#94b47e" opacity="0.7"/><circle cx="1.9" cy="27.8" r="0.8" fill="#94b47e" opacity="0.7"/><circle cx="-21.0" cy="-35.9" r="1.0" fill="#2f4a25" opacity="0.7"/><circle cx="-37.3" cy="-16.8" r="1.0" fill="#94b47e" opacity="0.7"/><circle cx="0.3" cy="-29.9" r="0.7" fill="#94b47e" opacity="0.7"/><circle cx="-34.8" cy="-1.4" r="1.1" fill="#94b47e" opacity="0.7"/><circle cx="-3.5" cy="9.1" r="1.1" fill="#e4ebe4" opacity="0.7"/><circle cx="-40.6" cy="-31.0" r="0.8" fill="#94b47e" opacity="0.7"/><circle cx="-41.9" cy="23.1" r="0.8" fill="#2f4a25" opacity="0.7"/><circle cx="-19.2" cy="-40.0" r="0.8" fill="#2f4a25" opacity="0.7"/><circle cx="40.6" cy="-41.9" r="0.8" fill="#e4ebe4" opacity="0.7"/><circle cx="9.9" cy="-38.4" r="0.5" fill="#e4ebe4" opacity="0.7"/><circle cx="-42.7" cy="-17.2" r="0.5" fill="#e4ebe4" opacity="0.7"/><circle cx="30.6" cy="5.4" r="1.0" fill="#e4ebe4" opacity="0.7"/><circle cx="10.9" cy="-16.1" r="0.7" fill="#94b47e" opacity="0.7"/><circle cx="7.1" cy="-7.3" r="0.9" fill="#e4ebe4" opacity="0.7"/><circle cx="-21.4" cy="39.5" r="0.8" fill="#94b47e" opacity="0.7"/><circle cx="38.4" cy="31.1" r="1.1" fill="#2f4a25" opacity="0.7"/><circle cx="-2.8" cy="5.4" r="1.1" fill="#2f4a25" opacity="0.7"/><circle cx="38.2" cy="-16.4" r="0.9" fill="#e4ebe4" opacity="0.7"/><circle cx="-30.1" cy="39.4" r="0.7" fill="#2f4a25" opacity="0.7"/><circle cx="11.8" cy="-43.7" r="0.8" fill="#2f4a25" opacity="0.7"/><circle cx="-0.2" cy="37.2" r="0.9" fill="#e4ebe4" opacity="0.7"/><circle cx="16.3" cy="14.3" r="0.8" fill="#e4ebe4" opacity="0.7"/><circle cx="6.5" cy="11.6" r="0.8" fill="#2f4a25" opacity="0.7"/><circle cx="-15.9" cy="12.2" r="0.5" fill="#2f4a25" opacity="0.7"/><circle cx="41.4" cy="-19.3" r="0.8" fill="#2f4a25" opacity="0.7"/><circle cx="-19.3" cy="-39.6" r="0.9" fill="#e4ebe4" opacity="0.7"/><circle cx="26.2" cy="-21.6" r="1.1" fill="#94b47e" opacity="0.7"/><circle cx="-35.0" cy="-12.9" r="0.5" fill="#2f4a25" opacity="0.7"/><circle cx="-0.9" cy="-1.6" r="0.7" fill="#94b47e" opacity="0.7"/><circle cx="0.3" cy="-13.9" r="0.6" fill="#2f4a25" opacity="0.7"/><circle cx="16.7" cy="-4.7" r="0.7" fill="#94b47e" opacity="0.7"/><circle cx="36.7" cy="16.3" r="1.1" fill="#94b47e" opacity="0.7"/><circle cx="-19.9" cy="-17.8" r="1.1" fill="#2f4a25" opacity="0.7"/><circle cx="27.7" cy="-17.3" r="0.7" fill="#2f4a25" opacity="0.7"/><circle cx="40.1" cy="13.9" r="0.8" fill="#94b47e" opacity="0.7"/><circle cx="9.7" cy="36.2" r="1.2" fill="#94b47e" opacity="0.7"/><circle cx="32.2" cy="41.9" r="0.6" fill="#e4ebe4" opacity="0.7"/><circle cx="42.4" cy="32.7" r="0.7" fill="#2f4a25" opacity="0.7"/><circle cx="9.7" cy="24.2" r="0.7" fill="#94b47e" opacity="0.7"/><circle cx="10.8" cy="-33.0" r="1.0" fill="#2f4a25" opacity="0.7"/><circle cx="-5.6" cy="-8.1" r="0.8" fill="#2f4a25" opacity="0.7"/><circle cx="6.1" cy="39.0" r="0.9" fill="#e4ebe4" opacity="0.7"/><circle cx="-24.2" cy="18.6" r="0.5" fill="#2f4a25" opacity="0.7"/><circle cx="-0.0" cy="42.2" r="0.7" fill="#94b47e" opacity="0.7"/><circle cx="24.2" cy="17.1" r="0.9" fill="#e4ebe4" opacity="0.7"/><circle cx="-2.9" cy="16.8" r="0.5" fill="#e4ebe4" opacity="0.7"/><circle cx="16.4" cy="38.9" r="0.7" fill="#2f4a25" opacity="0.7"/><circle cx="36.2" cy="-18.4" r="1.2" fill="#94b47e" opacity="0.7"/><circle cx="-17.3" cy="-3.2" r="0.5" fill="#2f4a25" opacity="0.7"/><circle cx="-19.4" cy="2.0" r="0.8" fill="#2f4a25" opacity="0.7"/><circle cx="-35.5" cy="18.0" r="0.5" fill="#94b47e" opacity="0.7"/><circle cx="2.3" cy="-18.6" r="1.2" fill="#e4ebe4" opacity="0.7"/><circle cx="-22.8" cy="-15.2" r="0.5" fill="#2f4a25" opacity="0.7"/><circle cx="40.4" cy="-18.0" r="1.1" fill="#94b47e" opacity="0.7"/><circle cx="2.8" cy="-25.0" r="1.1" fill="#e4ebe4" opacity="0.7"/><circle cx="36.7" cy="-37.0" r="0.8" fill="#e4ebe4" opacity="0.7"/><circle cx="16.3" cy="23.1" r="0.9" fill="#94b47e" opacity="0.7"/><circle cx="37.4" cy="0.0" r="1.2" fill="#94b47e" opacity="0.7"/><circle cx="3.6" cy="43.8" r="0.9" fill="#2f4a25" opacity="0.7"/><circle cx="-28.0" cy="42.9" r="0.9" fill="#2f4a25" opacity="0.7"/><circle cx="4.5" cy="-20.0" r="1.0" fill="#94b47e" opacity="0.7"/><circle cx="38.3" cy="-20.4" r="1.1" fill="#2f4a25" opacity="0.7"/><circle cx="18.1" cy="-3.8" r="0.8" fill="#2f4a25" opacity="0.7"/><circle cx="39.8" cy="-26.9" r="0.7" fill="#2f4a25" opacity="0.7"/><circle cx="4.4" cy="-43.8" r="0.8" fill="#94b47e" opacity="0.7"/><circle cx="-5.5" cy="-32.7" r="0.8" fill="#94b47e" opacity="0.7"/><circle cx="25.1" cy="-22.5" r="1.1" fill="#2f4a25" opacity="0.7"/><circle cx="16.0" cy="10.2" r="0.5" fill="#94b47e" opacity="0.7"/><circle cx="5.6" cy="-22.4" r="0.9" fill="#e4ebe4" opacity="0.7"/><circle cx="-42.5" cy="-37.6" r="0.8" fill="#e4ebe4" opacity="0.7"/><circle cx="10.5" cy="-25.7" r="0.7" fill="#94b47e" opacity="0.7"/><circle cx="-1.2" cy="7.7" r="0.7" fill="#94b47e" opacity="0.7"/><circle cx="-33.4" cy="-17.2" r="0.7" fill="#94b47e" opacity="0.7"/><circle cx="0.8" cy="-7.9" r="0.8" fill="#2f4a25" opacity="0.7"/><circle cx="-21.3" cy="25.6" r="1.0" fill="#e4ebe4" opacity="0.7"/><circle cx="-25.8" cy="14.3" r="0.6" fill="#e4ebe4" opacity="0.7"/><circle cx="-16.2" cy="10.9" r="0.8" fill="#e4ebe4" opacity="0.7"/><circle cx="10.7" cy="-36.2" r="1.0" fill="#94b47e" opacity="0.7"/><circle cx="33.4" cy="-4.0" r="0.8" fill="#94b47e" opacity="0.7"/><circle cx="41.9" cy="25.1" r="0.8" fill="#94b47e" opacity="0.7"/><circle cx="-37.4" cy="-24.0" r="0.7" fill="#94b47e" opacity="0.7"/><circle cx="39.6" cy="13.7" r="1.0" fill="#e4ebe4" opacity="0.7"/><circle cx="-25.3" cy="-17.7" r="0.9" fill="#2f4a25" opacity="0.7"/><circle cx="3.4" cy="42.2" r="0.7" fill="#94b47e" opacity="0.7"/><circle cx="-9.6" cy="29.9" r="0.7" fill="#e4ebe4" opacity="0.7"/><circle cx="-21.2" cy="10.0" r="0.7" fill="#e4ebe4" opacity="0.7"/><circle cx="-17.6" cy="40.1" r="1.0" fill="#e4ebe4" opacity="0.7"/></g></g>
<g clip-path="url(#fc3)"><g transform="translate(581.9 1162.5)" filter="url(#soft)"><rect x="-46" y="-46" width="92" height="92" fill="#f0f0f2"/><path d="M-46 -46 H-2 V-34 Q-20 -32 -34 -24 L-46 -20 Z" fill="#51698c"/><path d="M-2 -46 H16 V-30 H-2 Z" fill="#5a7090"/><path d="M-15 -46 H1 V-30 H-15 Z" fill="#c98a36"/><path d="M-11 -44 H-8 V-32 H-11 Z" fill="#f0e6d6"/><path d="M18 -40 Q30 -38 40 -30 L40 -14 L18 -14 Z" fill="#f1ece1"/><path d="M-46 -22 Q-34 -26 -22 -22 L-22 -12 L-46 -8 Z" fill="#e4e5e8"/><path d="M-46 -12 L-22 -14 L-22 -4 L-46 -2 Z" fill="#d2ad80"/><path d="M-21 -12 Q-38 -12 -36 4 Q-34 18 -16 26" fill="none" stroke="#dfe2e5" stroke-width="2.6"/><path d="M-21 -25 L26 -25 L23 38 Q2 42 -18 38 Z" fill="#f6f1e3"/><path d="M12 -25 L26 -25 L23 38 Q18 40 12 40 Z" fill="#efe7d3"/><ellipse cx="2.5" cy="-25" rx="23.5" ry="3.5" fill="#eeebe3"/><ellipse cx="1" cy="-21" rx="16" ry="3.5" fill="#caa27c"/><path d="M33 -10 L36 10 M37 -9 L39 9 M33 6 L41 10" stroke="#2c2424" stroke-width="2"/></g></g>
<g clip-path="url(#fc4)"><g transform="translate(704.2 1162.5)" filter="url(#soft)"><rect x="-46" y="-46" width="92" height="92" fill="#efefef"/><path d="M-46 -30 Q-36 -28 -28 -30 L-14 -24 Q-18 -14 -24 -8 Q-34 -6 -46 -2 Z" fill="#b84c44"/><path d="M0 -46 H46 V-12 Q34 -16 26 -14 L22 -20 Q10 -24 4 -26 Z" fill="#ae3f38"/><path d="M-30 -46 H6 V-26 Q-12 -22 -28 -28 Z" fill="#8a5a44"/><path d="M-8 -44 Q-6 -36 -2 -32" stroke="#d9c1b0" stroke-width="2" fill="none"/><path d="M-29 -30 Q-18 -22 -6 -12" stroke="#dedede" stroke-width="1.6" fill="none"/><ellipse cx="-33" cy="-4" rx="8.5" ry="10" fill="#d9574f"/><path d="M-40 -13 L-27 -13 L-33 -9 Z" fill="#4d8a34"/><ellipse cx="31" cy="1" rx="8.5" ry="10.5" fill="#d5524a"/><path d="M25 -9 L37 -9 L31 -5 Z" fill="#4d8a34"/><path d="M-17 -14 Q-18 -22 -10 -22 L12 -22 Q19 -22 19 -14 L19 34 Q19 42 1 42 Q-17 42 -17 34 Z" fill="#c9524c"/><ellipse cx="1" cy="-16" rx="16.5" ry="6" fill="#da5a50"/><rect x="-17" y="-6" width="36" height="3" fill="#e07a72" opacity="0.6"/><circle cx="-13.1" cy="15.8" r="1.0" fill="#6a3030" opacity="0.7"/><circle cx="-12.9" cy="38.7" r="0.9" fill="#a83a34" opacity="0.7"/><circle cx="8.9" cy="15.6" r="0.6" fill="#6a3030" opacity="0.7"/><circle cx="2.4" cy="39.3" r="0.5" fill="#a83a34" opacity="0.7"/><circle cx="10.9" cy="11.5" r="0.4" fill="#a83a34" opacity="0.7"/><circle cx="1.9" cy="10.7" r="0.5" fill="#6a3030" opacity="0.7"/><circle cx="6.2" cy="-1.2" r="1.0" fill="#6a3030" opacity="0.7"/><circle cx="6.6" cy="-12.3" r="0.4" fill="#6a3030" opacity="0.7"/><circle cx="2.0" cy="39.5" r="0.8" fill="#a83a34" opacity="0.7"/><circle cx="-3.7" cy="26.0" r="0.5" fill="#a83a34" opacity="0.7"/><circle cx="2.5" cy="-8.2" r="0.7" fill="#e0746c" opacity="0.7"/><circle cx="-2.8" cy="-2.1" r="0.7" fill="#9a3430" opacity="0.7"/><circle cx="2.3" cy="5.1" r="0.7" fill="#a83a34" opacity="0.7"/><circle cx="5.0" cy="30.4" r="0.8" fill="#e0746c" opacity="0.7"/><circle cx="-9.3" cy="-11.2" r="0.5" fill="#9a3430" opacity="0.7"/><circle cx="8.6" cy="-2.7" r="0.7" fill="#9a3430" opacity="0.7"/><circle cx="6.3" cy="-1.1" r="0.6" fill="#a83a34" opacity="0.7"/><circle cx="7.4" cy="1.5" r="1.0" fill="#e0746c" opacity="0.7"/><circle cx="12.1" cy="22.7" r="0.4" fill="#a83a34" opacity="0.7"/><circle cx="4.5" cy="39.2" r="0.6" fill="#e0746c" opacity="0.7"/><circle cx="4.3" cy="0.5" r="0.9" fill="#a83a34" opacity="0.7"/><circle cx="10.2" cy="33.4" r="0.5" fill="#e0746c" opacity="0.7"/><circle cx="14.3" cy="21.3" r="0.5" fill="#a83a34" opacity="0.7"/><circle cx="4.3" cy="2.2" r="0.9" fill="#a83a34" opacity="0.7"/><circle cx="12.9" cy="-4.9" r="0.7" fill="#e0746c" opacity="0.7"/><circle cx="0.8" cy="20.8" r="1.0" fill="#9a3430" opacity="0.7"/><circle cx="9.5" cy="21.5" r="1.1" fill="#9a3430" opacity="0.7"/><circle cx="-12.0" cy="-15.4" r="0.6" fill="#6a3030" opacity="0.7"/><circle cx="4.2" cy="32.0" r="0.4" fill="#9a3430" opacity="0.7"/><circle cx="-1.6" cy="34.7" r="0.8" fill="#a83a34" opacity="0.7"/><circle cx="-13.6" cy="-9.1" r="0.9" fill="#9a3430" opacity="0.7"/><circle cx="-0.0" cy="-1.2" r="0.8" fill="#a83a34" opacity="0.7"/><circle cx="-7.0" cy="-17.8" r="1.0" fill="#a83a34" opacity="0.7"/><circle cx="-6.6" cy="-17.1" r="0.6" fill="#e0746c" opacity="0.7"/><circle cx="-6.4" cy="-11.4" r="1.0" fill="#6a3030" opacity="0.7"/><circle cx="6.7" cy="-7.0" r="0.8" fill="#6a3030" opacity="0.7"/><circle cx="7.2" cy="11.0" r="0.7" fill="#6a3030" opacity="0.7"/><circle cx="-3.4" cy="-2.6" r="0.7" fill="#e0746c" opacity="0.7"/><circle cx="-5.9" cy="-0.8" r="0.7" fill="#9a3430" opacity="0.7"/><circle cx="4.9" cy="-1.4" r="0.5" fill="#6a3030" opacity="0.7"/><circle cx="7.1" cy="25.2" r="0.7" fill="#6a3030" opacity="0.7"/><circle cx="1.0" cy="-4.9" r="0.8" fill="#e0746c" opacity="0.7"/><circle cx="-12.6" cy="-3.7" r="1.1" fill="#6a3030" opacity="0.7"/><circle cx="1.5" cy="-0.0" r="1.0" fill="#a83a34" opacity="0.7"/><circle cx="16.7" cy="-13.6" r="1.1" fill="#9a3430" opacity="0.7"/><circle cx="12.7" cy="28.3" r="0.9" fill="#9a3430" opacity="0.7"/><circle cx="-0.7" cy="39.4" r="1.0" fill="#9a3430" opacity="0.7"/><circle cx="3.6" cy="-8.0" r="0.7" fill="#e0746c" opacity="0.7"/><circle cx="6.6" cy="-5.4" r="0.7" fill="#a83a34" opacity="0.7"/><circle cx="16.7" cy="35.5" r="0.8" fill="#9a3430" opacity="0.7"/><circle cx="-8.0" cy="20.1" r="0.6" fill="#9a3430" opacity="0.7"/><circle cx="-7.2" cy="0.0" r="0.5" fill="#9a3430" opacity="0.7"/><circle cx="16.2" cy="-7.3" r="0.5" fill="#e0746c" opacity="0.7"/><circle cx="9.3" cy="-14.7" r="0.4" fill="#e0746c" opacity="0.7"/><circle cx="10.3" cy="18.8" r="0.9" fill="#6a3030" opacity="0.7"/><circle cx="5.6" cy="39.1" r="1.0" fill="#e0746c" opacity="0.7"/><circle cx="-4.8" cy="-11.3" r="0.4" fill="#9a3430" opacity="0.7"/><circle cx="12.7" cy="-0.4" r="1.0" fill="#a83a34" opacity="0.7"/><circle cx="-2.6" cy="19.6" r="0.7" fill="#9a3430" opacity="0.7"/><circle cx="-7.3" cy="-1.8" r="1.0" fill="#9a3430" opacity="0.7"/><circle cx="-12.9" cy="-7.2" r="0.6" fill="#a83a34" opacity="0.7"/><circle cx="14.9" cy="20.6" r="0.5" fill="#6a3030" opacity="0.7"/><circle cx="14.9" cy="0.6" r="0.4" fill="#6a3030" opacity="0.7"/><circle cx="0.7" cy="4.3" r="0.8" fill="#9a3430" opacity="0.7"/><circle cx="-11.3" cy="2.9" r="0.8" fill="#a83a34" opacity="0.7"/><circle cx="-2.5" cy="36.7" r="0.9" fill="#e0746c" opacity="0.7"/><circle cx="-8.5" cy="-17.3" r="0.9" fill="#e0746c" opacity="0.7"/><circle cx="-0.6" cy="10.1" r="0.4" fill="#9a3430" opacity="0.7"/><circle cx="-10.8" cy="4.2" r="0.6" fill="#6a3030" opacity="0.7"/><circle cx="4.8" cy="25.3" r="0.9" fill="#9a3430" opacity="0.7"/></g></g>
<rect x="1290.8" y="1130.3" width="204.1" height="65.6" rx="5" fill="#e9e9e9"/>
<rect x="1536" y="1130.3" width="67.1" height="65.6" rx="5" fill="#e9e9e9"/>
<circle cx="1566.8" cy="1157.8" r="8.9" fill="none" stroke="#222" stroke-width="1.3"/>
<path d="M1573.3 1164.4 L1582.2 1173" stroke="#222" stroke-width="1.4" stroke-linecap="round"/>
<rect x="57.5" y="1436.8" width="179.4" height="5.4" fill="#2bb8dc"/>
<rect x="31" y="1442" width="1575" height="2" fill="#707070"/>
<rect x="31" y="1566.4" width="1575" height="1.6" fill="#dedede"/>
<rect x="31" y="1690.5" width="1575" height="1.6" fill="#dedede"/>
<line x1="659.9" y1="1321" x2="659.9" y2="1755" stroke="#dadada" stroke-width="2" stroke-dasharray="6 4"/>
<g clip-path="url(#ac0)"><g transform="translate(62.7 1505.7)" filter="url(#soft2)"><rect x="-33" y="-33" width="66" height="66" fill="#d2d2d2"/><ellipse cx="-2" cy="-4" rx="30" ry="33" fill="url(#jsface)" transform="rotate(-35 -2 -4)"/><path d="M-16 -31 Q2 -37 20 -31 L16 -27 Q0 -31 -14 -27 Z" fill="#2a2a2a"/><path d="M22 -12 Q34 0 30 14 L22 12 Q24 2 18 -6 Z" fill="#262626"/><path d="M-24 16 Q-10 32 4 30 L2 20 Q-10 22 -20 12 Z" fill="#4a4a4a"/><path d="M6 18 L34 12 L34 34 L0 34 Z" fill="#d6d6d6"/><ellipse cx="-14" cy="-6" rx="7.5" ry="5" fill="#8a8a8a" stroke="#1e1e1e" stroke-width="1.3" transform="rotate(40 -14 -6)"/><ellipse cx="5" cy="10" rx="10" ry="6.5" fill="#1c1c1c" transform="rotate(35 5 10)"/><path d="M-8 0 L-2 4" stroke="#222" stroke-width="1.6"/></g></g>
<g clip-path="url(#ac1)"><g transform="translate(62.4 1629.9)" filter="url(#soft)"><rect x="-33" y="-33" width="66" height="66" fill="#33412e"/><circle cx="-9.6" cy="-29.2" r="1.1" fill="#8e9a88" opacity="0.8"/><circle cx="25.4" cy="-21.9" r="1.6" fill="#1f2a1c" opacity="0.8"/><circle cx="-26.5" cy="-30.0" r="1.8" fill="#8e9a88" opacity="0.8"/><circle cx="5.9" cy="-22.3" r="1.0" fill="#b0b8a8" opacity="0.8"/><circle cx="-24.8" cy="-23.6" r="1.6" fill="#1f2a1c" opacity="0.8"/><circle cx="-27.5" cy="2.7" r="1.7" fill="#b0b8a8" opacity="0.8"/><circle cx="-22.4" cy="-8.1" r="1.4" fill="#b0b8a8" opacity="0.8"/><circle cx="-31.6" cy="-19.1" r="2.0" fill="#8e9a88" opacity="0.8"/><circle cx="-19.6" cy="-17.9" r="0.8" fill="#b0b8a8" opacity="0.8"/><circle cx="-13.5" cy="-20.0" r="1.6" fill="#1f2a1c" opacity="0.8"/><circle cx="-7.5" cy="-2.3" r="1.2" fill="#8e9a88" opacity="0.8"/><circle cx="26.1" cy="-30.3" r="1.1" fill="#5c6a55" opacity="0.8"/><circle cx="-16.4" cy="9.9" r="0.9" fill="#1f2a1c" opacity="0.8"/><circle cx="8.2" cy="4.3" r="1.2" fill="#5c6a55" opacity="0.8"/><circle cx="-24.8" cy="9.1" r="1.7" fill="#5c6a55" opacity="0.8"/><circle cx="5.8" cy="-3.6" r="1.5" fill="#5c6a55" opacity="0.8"/><circle cx="31.9" cy="3.2" r="1.6" fill="#1f2a1c" opacity="0.8"/><circle cx="-15.4" cy="-11.1" r="0.9" fill="#8e9a88" opacity="0.8"/><circle cx="-4.2" cy="-7.7" r="1.1" fill="#b0b8a8" opacity="0.8"/><circle cx="-19.7" cy="-13.2" r="1.8" fill="#8e9a88" opacity="0.8"/><circle cx="-15.2" cy="-16.6" r="1.6" fill="#1f2a1c" opacity="0.8"/><circle cx="2.7" cy="-21.0" r="1.3" fill="#5c6a55" opacity="0.8"/><circle cx="14.9" cy="-27.2" r="1.6" fill="#5c6a55" opacity="0.8"/><circle cx="9.0" cy="-12.3" r="1.4" fill="#8e9a88" opacity="0.8"/><circle cx="-27.8" cy="-1.9" r="1.1" fill="#b0b8a8" opacity="0.8"/><circle cx="-20.6" cy="-12.6" r="1.4" fill="#b0b8a8" opacity="0.8"/><circle cx="-14.8" cy="-8.4" r="1.1" fill="#b0b8a8" opacity="0.8"/><circle cx="2.5" cy="-6.0" r="1.9" fill="#1f2a1c" opacity="0.8"/><circle cx="-24.0" cy="-6.8" r="1.6" fill="#b0b8a8" opacity="0.8"/><circle cx="-5.5" cy="-24.3" r="1.7" fill="#5c6a55" opacity="0.8"/><circle cx="30.0" cy="-29.6" r="0.9" fill="#8e9a88" opacity="0.8"/><circle cx="-23.1" cy="-3.6" r="1.1" fill="#5c6a55" opacity="0.8"/><circle cx="3.1" cy="4.0" r="1.2" fill="#8e9a88" opacity="0.8"/><circle cx="-28.3" cy="-4.8" r="1.4" fill="#8e9a88" opacity="0.8"/><circle cx="-30.1" cy="-25.2" r="0.9" fill="#5c6a55" opacity="0.8"/><circle cx="-23.8" cy="-6.7" r="1.8" fill="#5c6a55" opacity="0.8"/><circle cx="26.8" cy="-16.3" r="1.6" fill="#5c6a55" opacity="0.8"/><circle cx="24.6" cy="-8.7" r="1.5" fill="#8e9a88" opacity="0.8"/><circle cx="11.3" cy="8.9" r="1.1" fill="#5c6a55" opacity="0.8"/><circle cx="8.5" cy="-12.3" r="0.8" fill="#b0b8a8" opacity="0.8"/><rect x="-33" y="12" width="66" height="22" fill="#507d3b"/><rect x="-33" y="10" width="66" height="3" fill="#8a9386"/><path d="M-17 22 Q-18 34 0 34 Q18 34 17 22 Z" fill="#dcae96"/><path d="M-22 6 Q-26 -26 0 -27 Q26 -26 22 6 L18 10 L16 -8 L-16 -8 L-18 10 Z" fill="#a66a42"/><ellipse cx="0" cy="5" rx="15.5" ry="18.5" fill="#dba88c"/><path d="M-17 -6 Q-4 -14 17 -8 Q10 -20 0 -20 Q-12 -20 -17 -6 Z" fill="#a66a42"/><path d="M-9 0 H-3 M4 0 H10" stroke="#6a4434" stroke-width="1.4"/><path d="M-1 4 Q0 10 2 10" stroke="#b88068" stroke-width="1.1" fill="none"/><path d="M-5 15 Q0 17 5 15" stroke="#a86a58" stroke-width="1.3" fill="none"/></g></g>
<g clip-path="url(#ac2)"><g transform="translate(62.4 1754.2)" filter="url(#soft)"><rect x="-33" y="-33" width="66" height="66" fill="#c49a70"/><rect x="-33" y="-33" width="8" height="66" fill="#6e5040"/><ellipse cx="-1" cy="-2" rx="24" ry="30" fill="#f1bca0"/><path d="M-26 -33 Q-4 -26 18 -33 Z" fill="#c49a70"/><ellipse cx="-11" cy="-22" rx="4" ry="2" fill="#5a4030"/><ellipse cx="9" cy="-21" rx="4" ry="2" fill="#5a4030"/><path d="M-2 -18 Q-6 -10 -2 -9" stroke="#c08a78" stroke-width="2" fill="none"/><path d="M-9 -4 Q-1 -7 7 -4 Q-1 0 -9 -4 Z" fill="#d8707a"/><rect x="22" y="-16" width="12" height="40" fill="#a83a30"/></g></g>
<circle cx="82.0" cy="1486.2" r="11.3" fill="#fff"/><circle cx="82.0" cy="1486.2" r="8.1" fill="#7dc22f"/>
<circle cx="81.9" cy="1610.2" r="11.3" fill="#fff"/><circle cx="81.9" cy="1610.2" r="8.1" fill="#f06868"/>
<circle cx="81.9" cy="1734.5" r="11.3" fill="#fff"/><circle cx="81.9" cy="1734.5" r="8.1" fill="#7dc22f"/>
<circle cx="34.6" cy="1734.7" r="15.6" fill="#fff"/><circle cx="34.6" cy="1734.7" r="13.5" fill="#fd06a4"/>
<path d="M34.6 1742.4 L28.2 1736 Q25.8 1733.4 27.2 1730.6 Q29.4 1727.4 32.6 1729.2 L34.6 1731 L36.6 1729.2 Q39.8 1727.4 42 1730.6 Q43.4 1733.4 41 1736 Z" fill="#fff"/>
<text x="32.10" y="81.90" font-size="45.20" fill="#151515" textLength="334.89" lengthAdjust="spacingAndGlyphs" >Affiliates analytics</text>
<text x="582.10" y="68.90" font-size="17.01" fill="#e6e6e6" textLength="26.19" lengthAdjust="spacingAndGlyphs" >ALL</text>
<text x="635.00" y="72.40" font-size="26.89" fill="#383838" textLength="129.10" lengthAdjust="spacingAndGlyphs" >All products</text>
<text x="914.00" y="68.90" font-size="17.01" fill="#e6e6e6" textLength="26.19" lengthAdjust="spacingAndGlyphs" >ALL</text>
<text x="968.30" y="72.20" font-size="26.60" fill="#383838" textLength="142.63" lengthAdjust="spacingAndGlyphs" >Whole funnel</text>
<text x="1273.07" y="72.40" font-size="26.89" fill="#383838" textLength="132.01" lengthAdjust="spacingAndGlyphs" >Last 30 days</text>
<text x="137.80" y="230.50" font-size="36.63" fill="#f4f4f4" textLength="106.50" lengthAdjust="spacingAndGlyphs" stroke="#363636" stroke-width="0.9">17,228</text>
<text x="136.80" y="270.90" font-size="21.22" fill="#8b8b8b" textLength="185.30" lengthAdjust="spacingAndGlyphs" >AFFILIATE TRAFFIC</text>
<text x="137.36" y="356.50" font-size="36.63" fill="#f4f4f4" textLength="181.91" lengthAdjust="spacingAndGlyphs" stroke="#363636" stroke-width="0.9">513 + 1,772</text>
<text x="136.10" y="396.90" font-size="21.22" fill="#8b8b8b" textLength="200.83" lengthAdjust="spacingAndGlyphs" >AFF. SALES + REBILLS</text>
<text x="136.81" y="482.50" font-size="36.63" fill="#f4f4f4" textLength="40.14" lengthAdjust="spacingAndGlyphs" stroke="#363636" stroke-width="0.9">54</text>
<text x="136.40" y="522.90" font-size="21.22" fill="#8b8b8b" textLength="139.24" lengthAdjust="spacingAndGlyphs" >AFF. REFUNDS</text>
<text x="136.68" y="598.10" font-size="21.37" fill="#f4f4f4" textLength="41.62" lengthAdjust="spacingAndGlyphs" >USD</text>
<text x="187.92" y="608.50" font-size="36.63" fill="#f4f4f4" textLength="129.20" lengthAdjust="spacingAndGlyphs" stroke="#363636" stroke-width="0.9">275,260</text>
<text x="136.68" y="648.90" font-size="21.22" fill="#8b8b8b" textLength="200.39" lengthAdjust="spacingAndGlyphs" >REVENUE FROM AFF</text>
<text x="136.68" y="724.10" font-size="21.37" fill="#f4f4f4" textLength="41.62" lengthAdjust="spacingAndGlyphs" >USD</text>
<text x="187.94" y="734.50" font-size="36.63" fill="#f4f4f4" textLength="107.67" lengthAdjust="spacingAndGlyphs" stroke="#363636" stroke-width="0.9">70,038</text>
<text x="135.94" y="774.90" font-size="21.22" fill="#8b8b8b" textLength="147.61" lengthAdjust="spacingAndGlyphs" >COMMISSIONS</text>
<text x="136.68" y="850.10" font-size="21.37" fill="#f4f4f4" textLength="41.62" lengthAdjust="spacingAndGlyphs" >USD</text>
<text x="187.80" y="860.50" font-size="36.63" fill="#f4f4f4" textLength="46.75" lengthAdjust="spacingAndGlyphs" stroke="#363636" stroke-width="0.9">4.1</text>
<text x="136.90" y="900.90" font-size="21.22" fill="#8b8b8b" textLength="140.30" lengthAdjust="spacingAndGlyphs" >AFFILIATE EPC</text>
<text x="586.46" y="230.50" font-size="36.92" fill="#f4f4f4" textLength="61.21" lengthAdjust="spacingAndGlyphs" stroke="#363636" stroke-width="0.9">589</text>
<text x="531.10" y="277.20" font-size="19.33" fill="#8b8b8b" textLength="170.23" lengthAdjust="spacingAndGlyphs" >ACTIVE AFFILIATES</text>
<text x="871.98" y="230.50" font-size="36.92" fill="#f4f4f4" textLength="39.75" lengthAdjust="spacingAndGlyphs" stroke="#363636" stroke-width="0.9">32</text>
<text x="801.05" y="277.20" font-size="19.33" fill="#8b8b8b" textLength="181.32" lengthAdjust="spacingAndGlyphs" >ACTIVE JV BROKERS</text>
<text x="1251.30" y="245.90" font-size="18.90" fill="#9b9b9b" textLength="52.64" lengthAdjust="spacingAndGlyphs" >TOTAL</text>
<text x="1407.71" y="245.90" font-size="18.90" fill="#9b9b9b" textLength="147.52" lengthAdjust="spacingAndGlyphs" >FROM AFFILIATES</text>
<text x="523.31" y="918.20" font-size="18.02" fill="#8d8d8d" textLength="50.61" lengthAdjust="spacingAndGlyphs" >USD 0</text>
<text x="480.30" y="806.72" font-size="18.02" fill="#8d8d8d" textLength="93.62" lengthAdjust="spacingAndGlyphs" >USD 50,000</text>
<text x="470.75" y="695.24" font-size="18.02" fill="#8d8d8d" textLength="103.17" lengthAdjust="spacingAndGlyphs" >USD 100,000</text>
<text x="470.75" y="583.76" font-size="18.02" fill="#8d8d8d" textLength="103.17" lengthAdjust="spacingAndGlyphs" >USD 150,000</text>
<text x="470.75" y="472.28" font-size="18.02" fill="#8d8d8d" textLength="103.17" lengthAdjust="spacingAndGlyphs" >USD 200,000</text>
<text x="470.75" y="360.80" font-size="18.02" fill="#8d8d8d" textLength="103.17" lengthAdjust="spacingAndGlyphs" >USD 250,000</text>
<text x="573.65" y="941.90" font-size="17.88" fill="#8d8d8d" textLength="53.68" lengthAdjust="spacingAndGlyphs" >16 Nov</text>
<text x="661.19" y="941.90" font-size="17.88" fill="#8d8d8d" textLength="53.68" lengthAdjust="spacingAndGlyphs" >23 Nov</text>
<text x="748.25" y="941.90" font-size="17.88" fill="#8d8d8d" textLength="53.68" lengthAdjust="spacingAndGlyphs" >30 Nov</text>
<text x="840.02" y="941.90" font-size="17.88" fill="#8d8d8d" textLength="44.26" lengthAdjust="spacingAndGlyphs" >7 Dec</text>
<text x="921.89" y="941.90" font-size="17.88" fill="#8d8d8d" textLength="53.68" lengthAdjust="spacingAndGlyphs" >14 Dec</text>
<text x="1009.43" y="941.90" font-size="17.88" fill="#8d8d8d" textLength="53.68" lengthAdjust="spacingAndGlyphs" >21 Dec</text>
<text x="1096.49" y="941.90" font-size="17.88" fill="#8d8d8d" textLength="53.68" lengthAdjust="spacingAndGlyphs" >28 Dec</text>
<text x="1190.14" y="941.90" font-size="17.88" fill="#8d8d8d" textLength="41.45" lengthAdjust="spacingAndGlyphs" >4 Jan</text>
<text x="1272.64" y="941.90" font-size="17.88" fill="#8d8d8d" textLength="49.61" lengthAdjust="spacingAndGlyphs" >11 Jan</text>
<text x="1359.07" y="941.90" font-size="17.88" fill="#8d8d8d" textLength="50.87" lengthAdjust="spacingAndGlyphs" >18 Jan</text>
<text x="1446.61" y="941.90" font-size="17.88" fill="#8d8d8d" textLength="50.87" lengthAdjust="spacingAndGlyphs" >25 Jan</text>
<text x="1536.49" y="941.90" font-size="17.88" fill="#8d8d8d" textLength="43.32" lengthAdjust="spacingAndGlyphs" >1 Feb</text>
<text x="925.70" y="1027.80" font-size="18.31" fill="#9b9b9b" textLength="74.98" lengthAdjust="spacingAndGlyphs" >VISITORS</text>
<text x="1105.60" y="1027.80" font-size="18.31" fill="#9b9b9b" textLength="79.58" lengthAdjust="spacingAndGlyphs" >REVENUE</text>
<text x="1290.60" y="1027.80" font-size="18.31" fill="#9b9b9b" textLength="132.07" lengthAdjust="spacingAndGlyphs" >SALES + REBILLS</text>
<text x="1526.69" y="1027.80" font-size="18.31" fill="#9b9b9b" textLength="80.90" lengthAdjust="spacingAndGlyphs" >REFUNDS</text>
<text x="65.70" y="1175.30" font-size="35.90" fill="#ffffff" textLength="55.23" lengthAdjust="spacingAndGlyphs" >ALL</text>
<text x="1311.53" y="1171.90" font-size="27.03" fill="#151515" textLength="162.09" lengthAdjust="spacingAndGlyphs" >Download CSV</text>
<text x="57.50" y="1376.60" font-size="21.22" fill="#2bb8dc" textLength="179.54" lengthAdjust="spacingAndGlyphs" >SHOW AFFILIATES</text>
<text x="272.70" y="1376.60" font-size="21.22" fill="#1c1c1c" textLength="190.24" lengthAdjust="spacingAndGlyphs" >SHOW JV BROKERS</text>
<text x="707.00" y="1376.60" font-size="21.22" fill="#1c1c1c" textLength="132.41" lengthAdjust="spacingAndGlyphs" >JV MANAGER</text>
<text x="926.70" y="1376.60" font-size="21.22" fill="#1c1c1c" textLength="90.94" lengthAdjust="spacingAndGlyphs" >VISITORS</text>
<text x="1097.80" y="1376.60" font-size="21.22" fill="#1c1c1c" textLength="59.83" lengthAdjust="spacingAndGlyphs" >SALES</text>
<text x="1235.09" y="1376.60" font-size="21.22" fill="#1c1c1c" textLength="79.55" lengthAdjust="spacingAndGlyphs" >REBILLS</text>
<text x="1395.76" y="1376.60" font-size="21.22" fill="#1c1c1c" textLength="96.08" lengthAdjust="spacingAndGlyphs" >REFUNDS</text>
<text x="1573.50" y="1376.60" font-size="21.22" fill="#1c1c1c" clip-path="url(#tclip)">OPTIONS</text>
<text x="137.40" y="1514.60" font-size="22.82" fill="#2bb8dc" textLength="106.03" lengthAdjust="spacingAndGlyphs" stroke="#ffffff" stroke-width="0.35">John Smith</text>
<text x="936.85" y="1514.80" font-size="25.58" fill="#2a2a2a" textLength="70.40" lengthAdjust="spacingAndGlyphs" stroke="#ffffff" stroke-width="0.55">83,933</text>
<text x="1099.35" y="1514.80" font-size="25.58" fill="#2a2a2a" textLength="57.60" lengthAdjust="spacingAndGlyphs" stroke="#ffffff" stroke-width="0.55">1,920</text>
<text x="1246.35" y="1514.80" font-size="25.58" fill="#2a2a2a" textLength="57.60" lengthAdjust="spacingAndGlyphs" stroke="#ffffff" stroke-width="0.55">5,044</text>
<text x="1424.65" y="1514.80" font-size="25.58" fill="#2a2a2a" textLength="38.40" lengthAdjust="spacingAndGlyphs" stroke="#ffffff" stroke-width="0.55">239</text>
<text x="137.40" y="1638.80" font-size="22.82" fill="#2bb8dc" textLength="133.28" lengthAdjust="spacingAndGlyphs" stroke="#ffffff" stroke-width="0.35">Wayne Marks</text>
<text x="937.30" y="1639.00" font-size="25.58" fill="#2a2a2a" textLength="70.40" lengthAdjust="spacingAndGlyphs" stroke="#ffffff" stroke-width="0.55">25,992</text>
<text x="1108.95" y="1639.00" font-size="25.58" fill="#2a2a2a" textLength="38.40" lengthAdjust="spacingAndGlyphs" stroke="#ffffff" stroke-width="0.55">709</text>
<text x="1255.95" y="1639.00" font-size="25.58" fill="#2a2a2a" textLength="38.40" lengthAdjust="spacingAndGlyphs" stroke="#ffffff" stroke-width="0.55">593</text>
<text x="1431.50" y="1639.00" font-size="25.58" fill="#2a2a2a" textLength="25.60" lengthAdjust="spacingAndGlyphs" stroke="#ffffff" stroke-width="0.55">17</text>
<text x="136.45" y="1763.00" font-size="22.82" fill="#2bb8dc" textLength="170.40" lengthAdjust="spacingAndGlyphs" stroke="#ffffff" stroke-width="0.35">Laury Guilleaume</text>
<text x="943.25" y="1763.20" font-size="25.58" fill="#2a2a2a" textLength="57.60" lengthAdjust="spacingAndGlyphs" stroke="#ffffff" stroke-width="0.55">6,933</text>
<text x="1108.95" y="1763.20" font-size="25.58" fill="#2a2a2a" textLength="38.40" lengthAdjust="spacingAndGlyphs" stroke="#ffffff" stroke-width="0.55">130</text>
<text x="1255.95" y="1763.20" font-size="25.58" fill="#2bb8dc" textLength="38.40" lengthAdjust="spacingAndGlyphs" stroke="#ffffff" stroke-width="0.55">189</text>
<text x="1437.45" y="1763.20" font-size="25.58" fill="#2a2a2a" textLength="12.80" lengthAdjust="spacingAndGlyphs" stroke="#ffffff" stroke-width="0.55">8</text>
</svg>
</body></html>
